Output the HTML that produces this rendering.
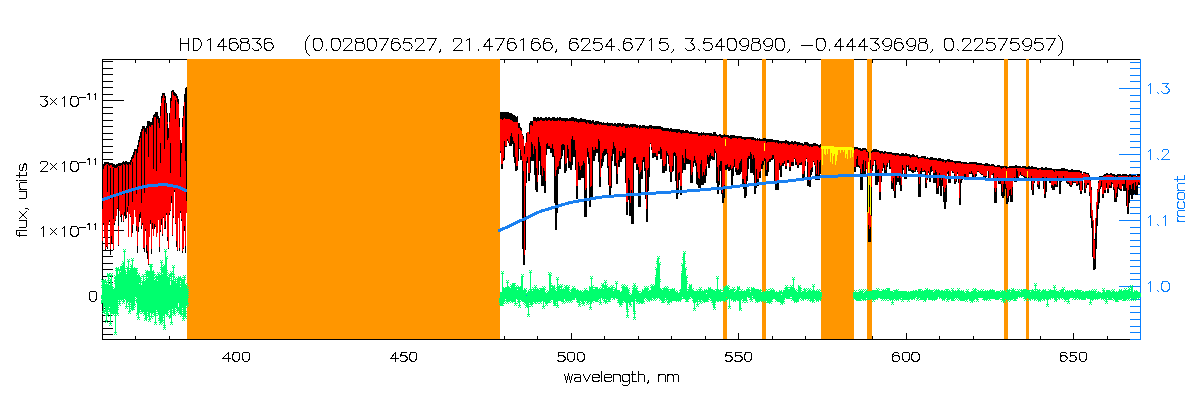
<!DOCTYPE html>
<html><head><meta charset="utf-8"><style>
html,body{margin:0;padding:0;background:#fff;width:1200px;height:400px;overflow:hidden}
svg{display:block}
text{font-family:'Liberation Sans',sans-serif}
</style></head><body>
<svg width="1200" height="400" viewBox="0 0 1200 400" shape-rendering="crispEdges">
<rect width="1200" height="400" fill="#fff"/>
<path fill="#000" d="M102 59h1v281h-1zM102 59h1038v1h-1038zM102 339h1038v1h-1038zM102 334h11v1h-11zM102 328h11v1h-11zM102 321h11v1h-11zM102 315h11v1h-11zM102 308h11v1h-11zM102 302h11v1h-11zM102 295h22v1h-22zM102 289h11v1h-11zM102 282h11v1h-11zM102 276h11v1h-11zM102 269h11v1h-11zM102 263h11v1h-11zM102 256h11v1h-11zM102 250h11v1h-11zM102 243h11v1h-11zM102 237h11v1h-11zM102 230h22v1h-22zM102 224h11v1h-11zM102 217h11v1h-11zM102 211h11v1h-11zM102 204h11v1h-11zM102 198h11v1h-11zM102 191h11v1h-11zM102 185h11v1h-11zM102 178h11v1h-11zM102 172h11v1h-11zM102 165h22v1h-22zM102 159h11v1h-11zM102 152h11v1h-11zM102 146h11v1h-11zM102 139h11v1h-11zM102 133h11v1h-11zM102 126h11v1h-11zM102 120h11v1h-11zM102 113h11v1h-11zM102 107h11v1h-11zM102 100h22v1h-22zM102 94h11v1h-11zM102 87h11v1h-11zM102 81h11v1h-11zM102 74h11v1h-11zM102 68h11v1h-11zM102 61h11v1h-11zM135 59h1v4h-1zM135 336h1v4h-1zM169 59h1v4h-1zM169 336h1v4h-1zM202 59h1v4h-1zM202 336h1v4h-1zM236 59h1v7h-1zM236 333h1v7h-1zM269 59h1v4h-1zM269 336h1v4h-1zM303 59h1v4h-1zM303 336h1v4h-1zM336 59h1v4h-1zM336 336h1v4h-1zM370 59h1v4h-1zM370 336h1v4h-1zM403 59h1v7h-1zM403 333h1v7h-1zM437 59h1v4h-1zM437 336h1v4h-1zM470 59h1v4h-1zM470 336h1v4h-1zM504 59h1v4h-1zM504 336h1v4h-1zM537 59h1v4h-1zM537 336h1v4h-1zM571 59h1v7h-1zM571 333h1v7h-1zM604 59h1v4h-1zM604 336h1v4h-1zM638 59h1v4h-1zM638 336h1v4h-1zM671 59h1v4h-1zM671 336h1v4h-1zM705 59h1v4h-1zM705 336h1v4h-1zM738 59h1v7h-1zM738 333h1v7h-1zM772 59h1v4h-1zM772 336h1v4h-1zM805 59h1v4h-1zM805 336h1v4h-1zM839 59h1v4h-1zM839 336h1v4h-1zM872 59h1v4h-1zM872 336h1v4h-1zM906 59h1v7h-1zM906 333h1v7h-1zM939 59h1v4h-1zM939 336h1v4h-1zM973 59h1v4h-1zM973 336h1v4h-1zM1006 59h1v4h-1zM1006 336h1v4h-1zM1040 59h1v4h-1zM1040 336h1v4h-1zM1073 59h1v7h-1zM1073 333h1v7h-1zM1107 59h1v4h-1zM1107 336h1v4h-1z"/><path fill="#0A80FF" d="M1140 59h1v281h-1zM1130 339h11v1h-11zM1130 332h11v1h-11zM1130 326h11v1h-11zM1130 319h11v1h-11zM1130 312h11v1h-11zM1130 306h11v1h-11zM1130 299h11v1h-11zM1130 293h11v1h-11zM1119 286h22v1h-22zM1130 279h11v1h-11zM1130 273h11v1h-11zM1130 266h11v1h-11zM1130 260h11v1h-11zM1130 253h11v1h-11zM1130 246h11v1h-11zM1130 240h11v1h-11zM1130 233h11v1h-11zM1130 227h11v1h-11zM1119 220h22v1h-22zM1130 213h11v1h-11zM1130 207h11v1h-11zM1130 200h11v1h-11zM1130 194h11v1h-11zM1130 187h11v1h-11zM1130 180h11v1h-11zM1130 174h11v1h-11zM1130 167h11v1h-11zM1130 161h11v1h-11zM1119 154h22v1h-22zM1130 147h11v1h-11zM1130 141h11v1h-11zM1130 134h11v1h-11zM1130 128h11v1h-11zM1130 121h11v1h-11zM1130 114h11v1h-11zM1130 108h11v1h-11zM1130 101h11v1h-11zM1130 95h11v1h-11zM1119 88h22v1h-22zM1130 81h11v1h-11zM1130 75h11v1h-11zM1130 68h11v1h-11zM1130 62h11v1h-11z"/><rect x="187" y="59" width="313" height="280" fill="#FF9600"/><rect x="723" y="59" width="4" height="280" fill="#FF9600"/><rect x="762" y="59" width="4" height="280" fill="#FF9600"/><rect x="821" y="59" width="33" height="280" fill="#FF9600"/><rect x="867" y="59" width="5" height="280" fill="#FF9600"/><rect x="1004" y="59" width="4" height="280" fill="#FF9600"/><rect x="1026" y="59" width="3" height="280" fill="#FF9600"/><path fill="#000000" d="M102 166h1v79h-1zM103 164h1v61h-1zM104 162h1v75h-1zM105 162h1v89h-1zM106 162h1v85h-1zM107 162h1v87h-1zM108 162h1v63h-1zM109 163h1v59h-1zM110 163h1v92h-1zM111 163h1v81h-1zM112 163h1v81h-1zM113 164h1v86h-1zM114 164h1v61h-1zM115 165h1v56h-1zM116 164h1v52h-1zM117 164h1v45h-1zM118 163h1v83h-1zM119 163h1v48h-1zM120 163h1v54h-1zM121 163h1v59h-1zM122 162h1v53h-1zM123 162h1v60h-1zM124 162h1v54h-1zM125 162h1v54h-1zM126 162h1v56h-1zM127 162h1v50h-1zM128 162h1v75h-1zM129 162h1v52h-1zM130 160h1v57h-1zM131 157h1v80h-1zM132 155h1v78h-1zM133 152h1v72h-1zM134 149h1v61h-1zM135 149h1v68h-1zM136 149h1v82h-1zM137 145h1v108h-1zM138 140h1v92h-1zM139 136h1v86h-1zM140 132h1v86h-1zM141 129h1v100h-1zM142 126h1v99h-1zM143 126h1v123h-1zM144 126h1v126h-1zM145 128h1v103h-1zM146 126h1v127h-1zM147 121h1v138h-1zM148 121h1v144h-1zM149 121h1v116h-1zM150 122h1v102h-1zM151 122h1v132h-1zM152 118h1v111h-1zM153 115h1v121h-1zM154 114h1v115h-1zM155 112h1v115h-1zM156 112h1v125h-1zM157 112h1v121h-1zM158 116h1v104h-1zM159 118h1v134h-1zM160 106h1v126h-1zM161 96h1v129h-1zM162 93h1v143h-1zM163 93h1v125h-1zM164 93h1v136h-1zM165 96h1v133h-1zM166 103h1v112h-1zM167 113h1v128h-1zM168 128h1v121h-1zM169 113h1v102h-1zM170 98h1v113h-1zM171 91h1v112h-1zM172 90h1v146h-1zM173 90h1v128h-1zM174 92h1v100h-1zM175 93h1v131h-1zM176 94h1v153h-1zM177 96h1v155h-1zM178 99h1v119h-1zM179 118h1v133h-1zM180 140h1v73h-1zM181 143h1v78h-1zM182 118h1v135h-1zM183 106h1v143h-1zM184 94h1v137h-1zM185 88h1v165h-1zM186 88h1v125h-1zM122 162h1v17h-1zM123 161h1v17h-1zM124 162h1v15h-1zM125 161h1v23h-1zM126 161h1v18h-1zM127 163h1v18h-1zM128 162h1v17h-1zM129 162h1v16h-1zM130 162h1v21h-1zM500 112h1v41h-1zM500 112h1v41h-1zM501 112h1v57h-1zM502 112h1v57h-1zM503 112h1v49h-1zM504 112h1v48h-1zM505 112h1v35h-1zM506 112h1v35h-1zM507 112h1v29h-1zM508 112h1v31h-1zM509 113h1v33h-1zM510 113h1v33h-1zM511 113h1v33h-1zM512 114h1v30h-1zM513 115h1v42h-1zM514 115h1v48h-1zM515 116h1v55h-1zM516 117h1v54h-1zM517 116h1v54h-1zM518 123h1v38h-1zM519 123h1v26h-1zM520 127h1v33h-1zM521 128h1v32h-1zM522 134h1v115h-1zM523 136h1v129h-1zM524 146h1v119h-1zM525 144h1v106h-1zM526 133h1v50h-1zM527 132h1v31h-1zM528 132h1v49h-1zM529 123h1v58h-1zM530 121h1v52h-1zM531 121h1v40h-1zM532 121h1v40h-1zM533 117h1v44h-1zM534 117h1v58h-1zM535 117h1v73h-1zM536 118h1v74h-1zM537 117h1v75h-1zM538 117h1v58h-1zM539 118h1v43h-1zM540 117h1v58h-1zM541 117h1v69h-1zM542 118h1v68h-1zM543 118h1v68h-1zM544 118h1v75h-1zM545 117h1v76h-1zM546 117h1v38h-1zM547 118h1v31h-1zM548 117h1v32h-1zM549 117h1v32h-1zM550 118h1v35h-1zM551 118h1v35h-1zM552 117h1v40h-1zM553 117h1v40h-1zM554 117h1v86h-1zM555 118h1v112h-1zM556 118h1v112h-1zM557 117h1v96h-1zM558 118h1v56h-1zM559 117h1v52h-1zM560 117h1v52h-1zM561 118h1v41h-1zM562 118h1v38h-1zM563 118h1v32h-1zM564 118h1v55h-1zM565 118h1v55h-1zM566 118h1v53h-1zM567 118h1v40h-1zM568 119h1v49h-1zM569 118h1v50h-1zM570 118h1v52h-1zM571 117h1v53h-1zM572 117h1v48h-1zM573 117h1v40h-1zM574 118h1v39h-1zM575 118h1v52h-1zM576 118h1v81h-1zM577 119h1v80h-1zM578 119h1v61h-1zM579 119h1v61h-1zM580 118h1v62h-1zM581 118h1v60h-1zM582 119h1v59h-1zM583 119h1v59h-1zM584 119h1v98h-1zM585 119h1v98h-1zM586 120h1v97h-1zM587 120h1v37h-1zM588 120h1v44h-1zM589 120h1v87h-1zM590 120h1v87h-1zM591 121h1v77h-1zM592 120h1v78h-1zM593 120h1v41h-1zM594 122h1v39h-1zM595 121h1v35h-1zM596 121h1v32h-1zM597 121h1v32h-1zM598 121h1v41h-1zM599 122h1v65h-1zM600 122h1v65h-1zM601 122h1v46h-1zM602 123h1v43h-1zM603 122h1v40h-1zM604 123h1v33h-1zM605 123h1v32h-1zM606 123h1v31h-1zM607 122h1v46h-1zM608 123h1v62h-1zM609 123h1v74h-1zM610 123h1v74h-1zM611 123h1v65h-1zM612 123h1v38h-1zM613 124h1v30h-1zM614 123h1v43h-1zM615 123h1v43h-1zM616 124h1v60h-1zM617 123h1v61h-1zM618 123h1v44h-1zM619 123h1v44h-1zM620 123h1v39h-1zM621 124h1v38h-1zM622 123h1v36h-1zM623 123h1v35h-1zM624 124h1v34h-1zM625 124h1v59h-1zM626 124h1v91h-1zM627 124h1v91h-1zM628 124h1v76h-1zM629 125h1v91h-1zM630 124h1v92h-1zM631 124h1v100h-1zM632 124h1v100h-1zM633 124h1v100h-1zM634 124h1v39h-1zM635 124h1v39h-1zM636 125h1v45h-1zM637 125h1v45h-1zM638 126h1v81h-1zM639 125h1v82h-1zM640 125h1v82h-1zM641 126h1v53h-1zM642 125h1v54h-1zM643 125h1v37h-1zM644 125h1v46h-1zM645 126h1v73h-1zM646 126h1v96h-1zM647 126h1v96h-1zM648 126h1v65h-1zM649 125h1v52h-1zM650 125h1v19h-1zM651 125h1v25h-1zM652 126h1v32h-1zM653 126h1v32h-1zM654 126h1v31h-1zM655 126h1v31h-1zM656 126h1v34h-1zM657 126h1v34h-1zM658 126h1v28h-1zM659 126h1v28h-1zM660 126h1v33h-1zM661 127h1v32h-1zM662 127h1v46h-1zM663 128h1v45h-1zM664 128h1v45h-1zM665 128h1v43h-1zM666 128h1v43h-1zM667 128h1v28h-1zM668 128h1v36h-1zM669 129h1v43h-1zM670 128h1v54h-1zM671 128h1v54h-1zM672 129h1v43h-1zM673 129h1v42h-1zM674 129h1v27h-1zM675 129h1v52h-1zM676 129h1v70h-1zM677 129h1v70h-1zM678 129h1v65h-1zM679 129h1v51h-1zM680 130h1v65h-1zM681 130h1v65h-1zM682 130h1v43h-1zM683 130h1v40h-1zM684 131h1v39h-1zM685 130h1v40h-1zM686 130h1v34h-1zM687 130h1v34h-1zM688 131h1v33h-1zM689 132h1v32h-1zM690 131h1v52h-1zM691 131h1v52h-1zM692 132h1v51h-1zM693 132h1v35h-1zM694 132h1v31h-1zM695 132h1v34h-1zM696 132h1v52h-1zM697 132h1v53h-1zM698 133h1v55h-1zM699 133h1v55h-1zM700 133h1v55h-1zM701 132h1v53h-1zM702 133h1v52h-1zM703 132h1v53h-1zM704 133h1v50h-1zM705 133h1v50h-1zM706 133h1v43h-1zM707 133h1v31h-1zM708 133h1v35h-1zM709 133h1v35h-1zM710 133h1v28h-1zM711 133h1v26h-1zM712 134h1v26h-1zM713 132h1v28h-1zM714 132h1v28h-1zM715 132h1v21h-1zM716 134h1v49h-1zM717 135h1v59h-1zM718 135h1v59h-1zM719 134h1v51h-1zM720 134h1v37h-1zM721 135h1v59h-1zM722 135h1v68h-1zM723 135h1v68h-1zM724 134h1v64h-1zM725 135h1v35h-1zM726 135h1v35h-1zM727 135h1v34h-1zM728 135h1v36h-1zM729 136h1v35h-1zM730 135h1v35h-1zM731 135h1v52h-1zM732 135h1v52h-1zM733 135h1v41h-1zM734 135h1v32h-1zM735 136h1v36h-1zM736 136h1v39h-1zM737 136h1v39h-1zM738 136h1v39h-1zM739 136h1v39h-1zM740 136h1v38h-1zM741 136h1v36h-1zM742 137h1v49h-1zM743 137h1v52h-1zM744 137h1v61h-1zM745 137h1v61h-1zM746 137h1v59h-1zM747 137h1v44h-1zM748 137h1v32h-1zM749 137h1v22h-1zM750 137h1v36h-1zM751 137h1v36h-1zM752 137h1v36h-1zM753 137h1v38h-1zM754 138h1v56h-1zM755 138h1v56h-1zM756 139h1v49h-1zM757 138h1v48h-1zM758 139h1v47h-1zM759 138h1v40h-1zM760 139h1v39h-1zM761 139h1v30h-1zM762 139h1v30h-1zM763 138h1v27h-1zM764 138h1v23h-1zM765 138h1v38h-1zM766 139h1v37h-1zM767 139h1v37h-1zM768 139h1v33h-1zM769 139h1v23h-1zM770 139h1v23h-1zM771 139h1v21h-1zM772 139h1v21h-1zM773 140h1v19h-1zM774 140h1v41h-1zM775 140h1v50h-1zM776 140h1v50h-1zM777 140h1v50h-1zM778 140h1v50h-1zM779 141h1v29h-1zM780 141h1v36h-1zM781 141h1v36h-1zM782 141h1v25h-1zM783 141h1v25h-1zM784 141h1v23h-1zM785 140h1v29h-1zM786 140h1v29h-1zM787 141h1v22h-1zM788 141h1v22h-1zM789 142h1v29h-1zM790 142h1v29h-1zM791 141h1v25h-1zM792 141h1v25h-1zM793 142h1v24h-1zM794 141h1v18h-1zM795 141h1v24h-1zM796 142h1v23h-1zM797 142h1v26h-1zM798 142h1v26h-1zM799 142h1v23h-1zM800 143h1v22h-1zM801 143h1v22h-1zM802 143h1v37h-1zM803 144h1v36h-1zM804 142h1v35h-1zM805 142h1v24h-1zM806 142h1v17h-1zM807 142h1v44h-1zM808 143h1v43h-1zM809 144h1v43h-1zM810 144h1v43h-1zM811 144h1v31h-1zM812 144h1v28h-1zM813 143h1v19h-1zM814 143h1v22h-1zM815 143h1v37h-1zM816 144h1v36h-1zM817 144h1v36h-1zM818 145h1v35h-1zM819 145h1v35h-1zM820 144h1v30h-1zM854 147h1v25h-1zM855 147h1v25h-1zM856 147h1v20h-1zM857 147h1v20h-1zM858 148h1v19h-1zM859 148h1v20h-1zM860 148h1v42h-1zM861 149h1v41h-1zM862 148h1v42h-1zM863 148h1v27h-1zM864 148h1v27h-1zM865 148h1v27h-1zM866 149h1v20h-1zM867 151h1v61h-1zM868 152h1v90h-1zM869 185h1v57h-1zM870 160h1v82h-1zM871 151h1v65h-1zM872 150h1v21h-1zM873 149h1v17h-1zM874 149h1v12h-1zM875 149h1v36h-1zM876 149h1v36h-1zM877 150h1v35h-1zM878 150h1v32h-1zM879 151h1v49h-1zM880 151h1v49h-1zM881 151h1v31h-1zM882 151h1v20h-1zM883 152h1v16h-1zM884 151h1v22h-1zM885 151h1v22h-1zM886 152h1v21h-1zM887 152h1v15h-1zM888 152h1v11h-1zM889 152h1v17h-1zM890 152h1v17h-1zM891 152h1v37h-1zM892 153h1v36h-1zM893 153h1v38h-1zM894 153h1v45h-1zM895 153h1v45h-1zM896 153h1v32h-1zM897 153h1v29h-1zM898 153h1v29h-1zM899 154h1v31h-1zM900 154h1v37h-1zM901 153h1v38h-1zM902 153h1v24h-1zM903 153h1v17h-1zM904 154h1v25h-1zM905 153h1v26h-1zM906 153h1v26h-1zM907 154h1v13h-1zM908 154h1v17h-1zM909 154h1v17h-1zM910 155h1v16h-1zM911 155h1v17h-1zM912 154h1v19h-1zM913 154h1v19h-1zM914 155h1v17h-1zM915 156h1v16h-1zM916 155h1v15h-1zM917 155h1v17h-1zM918 157h1v40h-1zM919 157h1v40h-1zM920 157h1v40h-1zM921 156h1v21h-1zM922 156h1v16h-1zM923 156h1v16h-1zM924 156h1v16h-1zM925 156h1v32h-1zM926 158h1v30h-1zM927 157h1v23h-1zM928 158h1v15h-1zM929 158h1v24h-1zM930 157h1v25h-1zM931 157h1v15h-1zM932 157h1v14h-1zM933 158h1v25h-1zM934 158h1v25h-1zM935 158h1v25h-1zM936 158h1v36h-1zM937 159h1v35h-1zM938 158h1v36h-1zM939 158h1v28h-1zM940 158h1v38h-1zM941 159h1v37h-1zM942 159h1v27h-1zM943 159h1v43h-1zM944 160h1v49h-1zM945 160h1v49h-1zM946 160h1v42h-1zM947 159h1v15h-1zM948 159h1v24h-1zM949 159h1v24h-1zM950 160h1v23h-1zM951 160h1v11h-1zM952 160h1v13h-1zM953 161h1v12h-1zM954 161h1v23h-1zM955 161h1v23h-1zM956 161h1v21h-1zM957 161h1v13h-1zM958 161h1v22h-1zM959 161h1v44h-1zM960 161h1v44h-1zM961 162h1v21h-1zM962 162h1v18h-1zM963 162h1v17h-1zM964 162h1v15h-1zM965 162h1v18h-1zM966 162h1v18h-1zM967 163h1v17h-1zM968 163h1v17h-1zM969 162h1v12h-1zM970 162h1v12h-1zM971 162h1v12h-1zM972 162h1v16h-1zM973 162h1v18h-1zM974 162h1v18h-1zM975 162h1v18h-1zM976 162h1v14h-1zM977 163h1v9h-1zM978 163h1v9h-1zM979 163h1v10h-1zM980 163h1v11h-1zM981 163h1v12h-1zM982 164h1v11h-1zM983 164h1v14h-1zM984 164h1v14h-1zM985 163h1v15h-1zM986 163h1v14h-1zM987 163h1v8h-1zM988 164h1v15h-1zM989 164h1v15h-1zM990 165h1v14h-1zM991 164h1v11h-1zM992 164h1v11h-1zM993 164h1v15h-1zM994 165h1v38h-1zM995 166h1v37h-1zM996 166h1v37h-1zM997 165h1v14h-1zM998 165h1v19h-1zM999 165h1v19h-1zM1000 166h1v18h-1zM1001 166h1v30h-1zM1002 166h1v32h-1zM1003 166h1v32h-1zM1004 166h1v30h-1zM1005 166h1v23h-1zM1006 166h1v38h-1zM1007 167h1v37h-1zM1008 167h1v35h-1zM1009 166h1v30h-1zM1010 166h1v36h-1zM1011 166h1v36h-1zM1012 166h1v36h-1zM1013 166h1v15h-1zM1014 166h1v16h-1zM1015 165h1v17h-1zM1016 165h1v17h-1zM1017 166h1v13h-1zM1018 166h1v13h-1zM1019 166h1v10h-1zM1020 166h1v9h-1zM1021 167h1v9h-1zM1022 166h1v10h-1zM1023 166h1v11h-1zM1024 166h1v12h-1zM1025 166h1v12h-1zM1026 167h1v12h-1zM1027 167h1v12h-1zM1028 166h1v15h-1zM1029 166h1v15h-1zM1030 167h1v14h-1zM1031 166h1v24h-1zM1032 166h1v29h-1zM1033 167h1v28h-1zM1034 167h1v16h-1zM1035 167h1v13h-1zM1036 167h1v13h-1zM1037 168h1v19h-1zM1038 168h1v21h-1zM1039 168h1v21h-1zM1040 168h1v13h-1zM1041 167h1v14h-1zM1042 167h1v14h-1zM1043 168h1v21h-1zM1044 168h1v30h-1zM1045 167h1v31h-1zM1046 167h1v25h-1zM1047 168h1v12h-1zM1048 168h1v12h-1zM1049 168h1v15h-1zM1050 168h1v15h-1zM1051 168h1v20h-1zM1052 169h1v21h-1zM1053 169h1v21h-1zM1054 169h1v21h-1zM1055 169h1v18h-1zM1056 169h1v18h-1zM1057 169h1v18h-1zM1058 169h1v11h-1zM1059 169h1v25h-1zM1060 169h1v25h-1zM1061 168h1v14h-1zM1062 168h1v12h-1zM1063 168h1v12h-1zM1064 168h1v11h-1zM1065 169h1v11h-1zM1066 169h1v14h-1zM1067 169h1v15h-1zM1068 170h1v14h-1zM1069 170h1v16h-1zM1070 170h1v17h-1zM1071 169h1v18h-1zM1072 169h1v16h-1zM1073 170h1v13h-1zM1074 170h1v13h-1zM1075 170h1v13h-1zM1076 170h1v16h-1zM1077 170h1v16h-1zM1078 170h1v15h-1zM1079 170h1v20h-1zM1080 171h1v23h-1zM1081 171h1v23h-1zM1082 174h1v16h-1zM1083 172h1v6h-1zM1084 172h1v21h-1zM1085 172h1v21h-1zM1086 173h1v15h-1zM1087 173h1v12h-1zM1088 173h1v12h-1zM1089 175h1v21h-1zM1090 179h1v39h-1zM1091 187h1v41h-1zM1092 210h1v47h-1zM1093 224h1v46h-1zM1094 239h1v31h-1zM1095 220h1v49h-1zM1096 205h1v44h-1zM1097 189h1v37h-1zM1098 181h1v28h-1zM1099 176h1v27h-1zM1100 176h1v13h-1zM1101 176h1v11h-1zM1102 176h1v22h-1zM1103 175h1v23h-1zM1104 174h1v19h-1zM1105 174h1v19h-1zM1106 173h1v15h-1zM1107 173h1v20h-1zM1108 174h1v19h-1zM1109 174h1v14h-1zM1110 173h1v15h-1zM1111 173h1v15h-1zM1112 174h1v10h-1zM1113 174h1v16h-1zM1114 174h1v28h-1zM1115 175h1v27h-1zM1116 175h1v27h-1zM1117 174h1v23h-1zM1118 174h1v15h-1zM1119 174h1v16h-1zM1120 174h1v17h-1zM1121 175h1v16h-1zM1122 174h1v12h-1zM1123 174h1v17h-1zM1124 174h1v17h-1zM1125 174h1v17h-1zM1126 174h1v32h-1zM1127 175h1v39h-1zM1128 175h1v39h-1zM1129 174h1v29h-1zM1130 174h1v21h-1zM1131 175h1v24h-1zM1132 175h1v24h-1zM1133 175h1v20h-1zM1134 175h1v19h-1zM1135 175h1v20h-1zM1136 176h1v19h-1zM1137 174h1v21h-1zM1138 174h1v11h-1zM1139 174h1v11h-1z"/><path fill="#FF0000" d="M102 171h1v70h-1zM103 169h1v54h-1zM104 166h1v71h-1zM105 165h1v84h-1zM106 164h1v82h-1zM107 164h1v83h-1zM108 165h1v60h-1zM109 166h1v54h-1zM110 165h1v84h-1zM111 165h1v71h-1zM112 167h1v76h-1zM113 167h1v82h-1zM114 168h1v55h-1zM115 168h1v52h-1zM116 168h1v48h-1zM117 167h1v41h-1zM118 166h1v79h-1zM119 166h1v45h-1zM120 166h1v50h-1zM121 165h1v49h-1zM122 166h1v49h-1zM123 164h1v57h-1zM124 165h1v47h-1zM125 165h1v50h-1zM126 164h1v51h-1zM127 165h1v42h-1zM128 164h1v73h-1zM129 164h1v50h-1zM130 165h1v51h-1zM131 162h1v75h-1zM132 159h1v66h-1zM133 158h1v66h-1zM134 155h1v55h-1zM135 151h1v66h-1zM136 152h1v74h-1zM137 153h1v93h-1zM138 147h1v80h-1zM139 142h1v72h-1zM140 138h1v74h-1zM141 135h1v91h-1zM142 131h1v92h-1zM143 129h1v119h-1zM144 130h1v118h-1zM145 132h1v97h-1zM146 134h1v111h-1zM147 128h1v123h-1zM148 123h1v141h-1zM149 126h1v111h-1zM150 127h1v93h-1zM151 125h1v124h-1zM152 125h1v98h-1zM153 122h1v114h-1zM154 117h1v107h-1zM155 117h1v109h-1zM156 116h1v121h-1zM157 119h1v114h-1zM158 123h1v97h-1zM159 128h1v119h-1zM160 116h1v114h-1zM161 103h1v116h-1zM162 98h1v136h-1zM163 95h1v122h-1zM164 98h1v130h-1zM165 103h1v118h-1zM166 113h1v100h-1zM167 122h1v115h-1zM168 138h1v110h-1zM169 122h1v91h-1zM170 108h1v102h-1zM171 101h1v95h-1zM172 92h1v143h-1zM173 95h1v121h-1zM174 96h1v94h-1zM175 96h1v127h-1zM176 98h1v143h-1zM177 102h1v148h-1zM178 104h1v114h-1zM179 127h1v121h-1zM180 149h1v62h-1zM181 153h1v66h-1zM182 127h1v124h-1zM183 116h1v132h-1zM184 102h1v124h-1zM185 97h1v149h-1zM186 90h1v123h-1zM500 119h1v32h-1zM501 119h1v45h-1zM502 120h1v44h-1zM503 119h1v39h-1zM504 118h1v23h-1zM505 119h1v27h-1zM506 119h1v27h-1zM507 119h1v20h-1zM508 119h1v22h-1zM509 119h1v24h-1zM510 120h1v26h-1zM511 120h1v13h-1zM512 121h1v22h-1zM513 122h1v19h-1zM514 122h1v32h-1zM515 122h1v43h-1zM516 122h1v44h-1zM517 122h1v44h-1zM518 128h1v6h-1zM519 128h1v20h-1zM520 130h1v26h-1zM521 131h1v25h-1zM522 135h1v34h-1zM523 139h1v116h-1zM524 154h1v101h-1zM525 143h1v43h-1zM526 142h1v32h-1zM527 132h1v25h-1zM528 132h1v41h-1zM529 134h1v39h-1zM530 125h1v32h-1zM531 125h1v17h-1zM532 126h1v29h-1zM533 121h1v33h-1zM534 121h1v25h-1zM535 121h1v45h-1zM536 122h1v60h-1zM537 121h1v61h-1zM538 121h1v16h-1zM539 121h1v21h-1zM540 120h1v46h-1zM541 120h1v46h-1zM542 121h1v55h-1zM543 121h1v47h-1zM544 121h1v60h-1zM545 120h1v61h-1zM546 121h1v23h-1zM547 121h1v22h-1zM548 120h1v26h-1zM549 120h1v26h-1zM550 121h1v27h-1zM551 121h1v27h-1zM552 120h1v24h-1zM553 121h1v30h-1zM554 121h1v50h-1zM555 121h1v95h-1zM556 121h1v95h-1zM557 121h1v46h-1zM558 120h1v46h-1zM559 121h1v40h-1zM560 120h1v41h-1zM561 121h1v32h-1zM562 121h1v23h-1zM563 121h1v23h-1zM564 121h1v43h-1zM565 122h1v42h-1zM566 121h1v42h-1zM567 121h1v24h-1zM568 121h1v40h-1zM569 121h1v40h-1zM570 121h1v41h-1zM571 121h1v41h-1zM572 121h1v15h-1zM573 121h1v31h-1zM574 122h1v18h-1zM575 121h1v29h-1zM576 122h1v64h-1zM577 122h1v64h-1zM578 123h1v39h-1zM579 122h1v49h-1zM580 122h1v48h-1zM581 122h1v44h-1zM582 122h1v47h-1zM583 122h1v39h-1zM584 122h1v75h-1zM585 123h1v80h-1zM586 124h1v64h-1zM587 122h1v26h-1zM588 123h1v33h-1zM589 124h1v71h-1zM590 124h1v71h-1zM591 124h1v62h-1zM592 123h1v24h-1zM593 124h1v31h-1zM594 125h1v30h-1zM595 125h1v22h-1zM596 125h1v24h-1zM597 124h1v25h-1zM598 124h1v15h-1zM599 125h1v52h-1zM600 124h1v53h-1zM601 125h1v34h-1zM602 125h1v34h-1zM603 125h1v26h-1zM604 125h1v24h-1zM605 125h1v24h-1zM606 125h1v24h-1zM607 126h1v36h-1zM608 126h1v46h-1zM609 126h1v60h-1zM610 126h1v60h-1zM611 125h1v31h-1zM612 126h1v23h-1zM613 126h1v16h-1zM614 126h1v20h-1zM615 126h1v34h-1zM616 127h1v47h-1zM617 127h1v47h-1zM618 127h1v33h-1zM619 126h1v25h-1zM620 126h1v30h-1zM621 127h1v29h-1zM622 127h1v24h-1zM623 126h1v27h-1zM624 126h1v27h-1zM625 128h1v20h-1zM626 128h1v74h-1zM627 128h1v74h-1zM628 127h1v51h-1zM629 128h1v75h-1zM630 127h1v76h-1zM631 127h1v63h-1zM632 128h1v82h-1zM633 127h1v66h-1zM634 127h1v30h-1zM635 127h1v30h-1zM636 128h1v36h-1zM637 128h1v36h-1zM638 127h1v46h-1zM639 129h1v66h-1zM640 128h1v51h-1zM641 128h1v42h-1zM642 128h1v42h-1zM643 128h1v29h-1zM644 128h1v29h-1zM645 129h1v39h-1zM646 128h1v81h-1zM647 129h1v80h-1zM648 129h1v39h-1zM649 128h1v38h-1zM650 128h1v15h-1zM651 129h1v18h-1zM652 128h1v25h-1zM653 129h1v24h-1zM654 129h1v24h-1zM655 129h1v24h-1zM656 129h1v27h-1zM657 129h1v27h-1zM658 129h1v22h-1zM659 129h1v22h-1zM660 129h1v18h-1zM661 130h1v26h-1zM662 131h1v33h-1zM663 131h1v35h-1zM664 131h1v35h-1zM665 131h1v33h-1zM666 131h1v20h-1zM667 131h1v22h-1zM668 131h1v24h-1zM669 132h1v34h-1zM670 131h1v41h-1zM671 132h1v40h-1zM672 132h1v34h-1zM673 132h1v21h-1zM674 132h1v20h-1zM675 132h1v21h-1zM676 133h1v55h-1zM677 133h1v55h-1zM678 132h1v52h-1zM679 132h1v40h-1zM680 133h1v53h-1zM681 134h1v52h-1zM682 133h1v22h-1zM683 133h1v25h-1zM684 133h1v30h-1zM685 133h1v16h-1zM686 133h1v25h-1zM687 133h1v26h-1zM688 133h1v26h-1zM689 134h1v26h-1zM690 134h1v26h-1zM691 134h1v41h-1zM692 134h1v38h-1zM693 134h1v27h-1zM694 134h1v22h-1zM695 134h1v26h-1zM696 134h1v36h-1zM697 134h1v43h-1zM698 136h1v42h-1zM699 136h1v43h-1zM700 135h1v39h-1zM701 136h1v24h-1zM702 135h1v41h-1zM703 135h1v37h-1zM704 135h1v40h-1zM705 136h1v39h-1zM706 135h1v31h-1zM707 135h1v20h-1zM708 135h1v28h-1zM709 136h1v27h-1zM710 136h1v17h-1zM711 136h1v20h-1zM712 136h1v20h-1zM713 136h1v21h-1zM714 136h1v13h-1zM715 136h1v15h-1zM716 136h1v27h-1zM717 137h1v48h-1zM718 136h1v49h-1zM719 136h1v41h-1zM720 137h1v24h-1zM721 138h1v23h-1zM722 138h1v55h-1zM723 137h1v56h-1zM724 137h1v48h-1zM725 137h1v28h-1zM726 137h1v28h-1zM727 137h1v27h-1zM728 138h1v29h-1zM729 138h1v29h-1zM730 139h1v26h-1zM731 139h1v39h-1zM732 138h1v40h-1zM733 138h1v28h-1zM734 138h1v21h-1zM735 138h1v30h-1zM736 138h1v30h-1zM737 139h1v31h-1zM738 138h1v31h-1zM739 138h1v31h-1zM740 138h1v23h-1zM741 139h1v20h-1zM742 139h1v40h-1zM743 139h1v40h-1zM744 140h1v47h-1zM745 140h1v47h-1zM746 139h1v45h-1zM747 139h1v35h-1zM748 139h1v17h-1zM749 139h1v17h-1zM750 139h1v13h-1zM751 140h1v27h-1zM752 140h1v19h-1zM753 140h1v15h-1zM754 140h1v44h-1zM755 141h1v43h-1zM756 140h1v29h-1zM757 141h1v38h-1zM758 140h1v39h-1zM759 141h1v31h-1zM760 141h1v30h-1zM761 141h1v23h-1zM762 141h1v20h-1zM763 141h1v20h-1zM764 141h1v17h-1zM765 141h1v18h-1zM766 143h1v27h-1zM767 142h1v28h-1zM768 142h1v19h-1zM769 142h1v17h-1zM770 142h1v17h-1zM771 142h1v16h-1zM772 142h1v13h-1zM773 142h1v13h-1zM774 142h1v22h-1zM775 143h1v38h-1zM776 142h1v39h-1zM777 143h1v38h-1zM778 144h1v37h-1zM779 143h1v20h-1zM780 143h1v29h-1zM781 144h1v28h-1zM782 143h1v20h-1zM783 143h1v20h-1zM784 143h1v18h-1zM785 144h1v22h-1zM786 143h1v23h-1zM787 144h1v16h-1zM788 145h1v15h-1zM789 145h1v22h-1zM790 144h1v23h-1zM791 144h1v18h-1zM792 144h1v18h-1zM793 145h1v17h-1zM794 144h1v14h-1zM795 144h1v15h-1zM796 144h1v18h-1zM797 146h1v19h-1zM798 145h1v20h-1zM799 145h1v18h-1zM800 145h1v18h-1zM801 145h1v17h-1zM802 146h1v28h-1zM803 146h1v28h-1zM804 145h1v26h-1zM805 145h1v16h-1zM806 145h1v13h-1zM807 146h1v29h-1zM808 146h1v32h-1zM809 147h1v34h-1zM810 146h1v35h-1zM811 147h1v21h-1zM812 147h1v20h-1zM813 146h1v15h-1zM814 146h1v17h-1zM815 146h1v28h-1zM816 146h1v28h-1zM817 146h1v14h-1zM818 147h1v28h-1zM819 148h1v24h-1zM820 147h1v13h-1zM854 150h1v17h-1zM855 149h1v18h-1zM856 149h1v10h-1zM857 149h1v7h-1zM858 150h1v15h-1zM859 150h1v16h-1zM860 151h1v23h-1zM861 151h1v32h-1zM862 151h1v19h-1zM863 150h1v10h-1zM864 150h1v21h-1zM865 150h1v11h-1zM866 152h1v16h-1zM867 152h1v25h-1zM868 158h1v67h-1zM869 207h1v22h-1zM870 169h1v58h-1zM871 153h1v34h-1zM872 152h1v13h-1zM873 152h1v13h-1zM874 152h1v8h-1zM875 152h1v8h-1zM876 152h1v27h-1zM877 152h1v18h-1zM878 152h1v17h-1zM879 153h1v39h-1zM880 154h1v38h-1zM881 153h1v20h-1zM882 153h1v16h-1zM883 154h1v9h-1zM884 154h1v11h-1zM885 153h1v17h-1zM886 153h1v12h-1zM887 154h1v9h-1zM888 154h1v9h-1zM889 154h1v6h-1zM890 154h1v13h-1zM891 154h1v27h-1zM892 155h1v28h-1zM893 155h1v23h-1zM894 155h1v36h-1zM895 156h1v35h-1zM896 155h1v18h-1zM897 155h1v23h-1zM898 155h1v23h-1zM899 156h1v20h-1zM900 156h1v29h-1zM901 156h1v29h-1zM902 156h1v9h-1zM903 156h1v12h-1zM904 156h1v17h-1zM905 156h1v20h-1zM906 156h1v9h-1zM907 156h1v10h-1zM908 156h1v9h-1zM909 157h1v12h-1zM910 158h1v10h-1zM911 157h1v13h-1zM912 157h1v13h-1zM913 157h1v13h-1zM914 157h1v14h-1zM915 157h1v10h-1zM916 157h1v10h-1zM917 158h1v13h-1zM918 159h1v21h-1zM919 158h1v32h-1zM920 158h1v30h-1zM921 158h1v10h-1zM922 158h1v13h-1zM923 158h1v13h-1zM924 159h1v11h-1zM925 159h1v24h-1zM926 159h1v24h-1zM927 159h1v18h-1zM928 159h1v12h-1zM929 160h1v18h-1zM930 160h1v18h-1zM931 160h1v6h-1zM932 160h1v10h-1zM933 160h1v19h-1zM934 160h1v19h-1zM935 160h1v10h-1zM936 160h1v22h-1zM937 161h1v27h-1zM938 161h1v25h-1zM939 161h1v12h-1zM940 161h1v28h-1zM941 161h1v28h-1zM942 162h1v16h-1zM943 162h1v25h-1zM944 161h1v39h-1zM945 163h1v37h-1zM946 162h1v23h-1zM947 161h1v11h-1zM948 162h1v9h-1zM949 162h1v17h-1zM950 162h1v14h-1zM951 162h1v9h-1zM952 162h1v9h-1zM953 162h1v10h-1zM954 163h1v18h-1zM955 164h1v17h-1zM956 163h1v16h-1zM957 163h1v9h-1zM958 163h1v16h-1zM959 163h1v35h-1zM960 163h1v35h-1zM961 164h1v13h-1zM962 163h1v15h-1zM963 164h1v12h-1zM964 164h1v10h-1zM965 164h1v10h-1zM966 164h1v13h-1zM967 164h1v13h-1zM968 164h1v13h-1zM969 164h1v8h-1zM970 164h1v9h-1zM971 164h1v7h-1zM972 164h1v9h-1zM973 164h1v11h-1zM974 164h1v13h-1zM975 164h1v10h-1zM976 165h1v9h-1zM977 165h1v6h-1zM978 165h1v6h-1zM979 165h1v8h-1zM980 165h1v8h-1zM981 165h1v9h-1zM982 165h1v9h-1zM983 165h1v11h-1zM984 166h1v10h-1zM985 166h1v10h-1zM986 166h1v10h-1zM987 166h1v5h-1zM988 166h1v5h-1zM989 166h1v12h-1zM990 166h1v12h-1zM991 166h1v9h-1zM992 166h1v8h-1zM993 166h1v7h-1zM994 167h1v21h-1zM995 167h1v30h-1zM996 167h1v21h-1zM997 167h1v10h-1zM998 167h1v13h-1zM999 167h1v15h-1zM1000 168h1v12h-1zM1001 169h1v15h-1zM1002 168h1v24h-1zM1003 168h1v24h-1zM1004 167h1v12h-1zM1005 168h1v16h-1zM1006 169h1v29h-1zM1007 168h1v30h-1zM1008 168h1v28h-1zM1009 168h1v22h-1zM1010 168h1v21h-1zM1011 168h1v27h-1zM1012 168h1v19h-1zM1013 168h1v11h-1zM1014 168h1v9h-1zM1015 168h1v11h-1zM1016 168h1v1h-1zM1017 168h1v9h-1zM1018 168h1v9h-1zM1019 168h1v8h-1zM1020 168h1v4h-1zM1021 168h1v7h-1zM1022 168h1v7h-1zM1023 168h1v8h-1zM1024 168h1v8h-1zM1025 169h1v8h-1zM1026 169h1v8h-1zM1027 169h1v9h-1zM1028 169h1v8h-1zM1029 169h1v9h-1zM1030 169h1v9h-1zM1031 169h1v7h-1zM1032 169h1v21h-1zM1033 169h1v21h-1zM1034 169h1v10h-1zM1035 169h1v10h-1zM1036 169h1v10h-1zM1037 170h1v14h-1zM1038 170h1v15h-1zM1039 169h1v16h-1zM1040 169h1v9h-1zM1041 170h1v10h-1zM1042 170h1v7h-1zM1043 170h1v7h-1zM1044 170h1v24h-1zM1045 170h1v24h-1zM1046 170h1v7h-1zM1047 170h1v8h-1zM1048 170h1v9h-1zM1049 170h1v11h-1zM1050 170h1v11h-1zM1051 170h1v15h-1zM1052 170h1v15h-1zM1053 171h1v15h-1zM1054 172h1v12h-1zM1055 170h1v14h-1zM1056 171h1v14h-1zM1057 171h1v5h-1zM1058 171h1v7h-1zM1059 171h1v18h-1zM1060 171h1v18h-1zM1061 171h1v7h-1zM1062 171h1v7h-1zM1063 171h1v5h-1zM1064 171h1v7h-1zM1065 171h1v7h-1zM1066 171h1v10h-1zM1067 171h1v11h-1zM1068 172h1v10h-1zM1069 172h1v11h-1zM1070 172h1v13h-1zM1071 172h1v13h-1zM1072 172h1v6h-1zM1073 172h1v10h-1zM1074 172h1v10h-1zM1075 172h1v10h-1zM1076 172h1v12h-1zM1077 172h1v12h-1zM1078 172h1v6h-1zM1079 172h1v11h-1zM1080 173h1v18h-1zM1081 173h1v18h-1zM1082 175h1v6h-1zM1083 173h1v5h-1zM1084 173h1v16h-1zM1085 174h1v15h-1zM1086 174h1v11h-1zM1087 174h1v9h-1zM1088 175h1v8h-1zM1089 177h1v15h-1zM1090 181h1v22h-1zM1091 190h1v26h-1zM1092 210h1v22h-1zM1093 220h1v38h-1zM1094 240h1v19h-1zM1095 218h1v39h-1zM1096 202h1v27h-1zM1097 190h1v26h-1zM1098 183h1v18h-1zM1099 178h1v11h-1zM1100 177h1v9h-1zM1101 177h1v4h-1zM1102 177h1v17h-1zM1103 176h1v18h-1zM1104 176h1v14h-1zM1105 176h1v14h-1zM1106 175h1v8h-1zM1107 175h1v14h-1zM1108 175h1v14h-1zM1109 175h1v10h-1zM1110 175h1v11h-1zM1111 175h1v7h-1zM1112 176h1v7h-1zM1113 176h1v11h-1zM1114 177h1v21h-1zM1115 176h1v22h-1zM1116 177h1v16h-1zM1117 177h1v16h-1zM1118 176h1v8h-1zM1119 176h1v12h-1zM1120 176h1v13h-1zM1121 176h1v13h-1zM1122 176h1v8h-1zM1123 176h1v8h-1zM1124 176h1v12h-1zM1125 176h1v4h-1zM1126 176h1v12h-1zM1127 176h1v31h-1zM1128 177h1v30h-1zM1129 176h1v9h-1zM1130 176h1v9h-1zM1131 177h1v17h-1zM1132 177h1v17h-1zM1133 176h1v7h-1zM1134 176h1v14h-1zM1135 176h1v6h-1zM1136 177h1v13h-1zM1137 176h1v9h-1zM1138 176h1v6h-1zM1139 176h1v7h-1z"/><path fill="#000000" d="M186 87h1v114h-1zM185 90h1v31h-1zM102 168h1v41h-1zM107 165h1v27h-1zM110 168h1v31h-1zM113 168h1v51h-1zM118 167h1v59h-1zM122 165h1v30h-1zM125 163h1v56h-1zM128 162h1v44h-1zM132 162h1v40h-1zM136 152h1v42h-1zM141 134h1v69h-1zM144 127h1v66h-1zM148 122h1v35h-1zM153 116h1v53h-1zM156 113h1v58h-1zM160 143h1v20h-1zM164 100h1v49h-1zM167 124h1v16h-1zM170 143h1v30h-1zM175 100h1v19h-1zM180 146h1v31h-1zM185 96h1v65h-1zM510 136h1v10h-1zM512 137h1v7h-1zM514 143h1v20h-1zM515 157h1v14h-1zM520 150h1v10h-1zM522 161h1v88h-1zM523 171h1v94h-1zM526 161h1v22h-1zM532 144h1v17h-1zM535 149h1v41h-1zM536 168h1v24h-1zM540 146h1v29h-1zM544 171h1v22h-1zM553 149h1v8h-1zM554 156h1v47h-1zM555 176h1v54h-1zM556 170h1v60h-1zM560 158h1v11h-1zM561 145h1v14h-1zM564 145h1v28h-1zM568 149h1v19h-1zM571 139h1v31h-1zM573 140h1v17h-1zM579 166h1v14h-1zM582 165h1v13h-1zM584 163h1v54h-1zM585 190h1v27h-1zM588 152h1v12h-1zM589 158h1v49h-1zM590 187h1v20h-1zM593 150h1v11h-1zM594 150h1v11h-1zM599 141h1v46h-1zM602 153h1v13h-1zM607 153h1v15h-1zM608 166h1v19h-1zM615 148h1v18h-1zM616 163h1v21h-1zM629 180h1v36h-1zM632 193h1v31h-1zM633 158h1v66h-1zM638 167h1v40h-1zM639 174h1v33h-1zM640 172h1v35h-1zM642 160h1v19h-1zM647 170h1v52h-1zM649 147h1v30h-1zM661 149h1v10h-1zM662 160h1v13h-1zM676 156h1v43h-1zM678 173h1v21h-1zM696 163h1v21h-1zM697 172h1v13h-1zM700 164h1v24h-1zM705 169h1v14h-1zM708 157h1v11h-1zM709 155h1v13h-1zM716 153h1v30h-1zM717 167h1v27h-1zM718 181h1v13h-1zM719 165h1v20h-1zM723 188h1v15h-1zM731 169h1v18h-1zM732 168h1v19h-1zM739 163h1v12h-1zM744 183h1v15h-1zM746 176h1v20h-1zM747 158h1v23h-1zM751 154h1v19h-1zM754 158h1v36h-1zM767 162h1v14h-1zM774 159h1v22h-1zM780 166h1v11h-1zM781 165h1v12h-1zM807 162h1v24h-1zM810 170h1v17h-1zM815 166h1v14h-1zM819 162h1v18h-1zM860 169h1v21h-1zM861 173h1v17h-1zM862 164h1v26h-1zM876 165h1v20h-1zM895 176h1v22h-1zM900 178h1v13h-1zM918 174h1v23h-1zM919 184h1v13h-1zM920 171h1v26h-1zM925 171h1v17h-1zM929 173h1v9h-1zM930 167h1v15h-1zM933 173h1v10h-1zM934 173h1v10h-1zM936 172h1v22h-1zM940 176h1v20h-1zM941 180h1v16h-1zM944 192h1v17h-1zM945 188h1v21h-1zM954 174h1v10h-1zM958 176h1v7h-1zM960 180h1v25h-1zM995 192h1v11h-1zM1003 184h1v14h-1zM1006 188h1v16h-1zM1017 171h1v8h-1zM1033 184h1v11h-1zM1039 182h1v7h-1zM1045 179h1v19h-1zM1059 180h1v14h-1zM1060 181h1v13h-1zM1084 183h1v10h-1zM1092 221h1v36h-1zM1095 233h1v36h-1zM1096 218h1v31h-1zM1097 205h1v21h-1zM1098 192h1v17h-1zM1114 189h1v13h-1zM1117 187h1v10h-1zM1124 184h1v7h-1zM1128 190h1v24h-1zM1131 189h1v10h-1zM1132 184h1v15h-1zM1136 186h1v9h-1z"/><path fill="#FFFF00" d="M725 139h1v7h-1zM764 143h1v8h-1zM821 146h1v3h-1zM822 146h1v3h-1zM822 148h1v17h-1zM823 146h1v3h-1zM824 146h1v3h-1zM824 148h1v6h-1zM825 146h1v3h-1zM825 148h1v7h-1zM826 146h1v3h-1zM827 146h1v3h-1zM827 148h1v6h-1zM828 146h1v3h-1zM829 146h1v3h-1zM830 146h1v3h-1zM830 148h1v14h-1zM831 146h1v3h-1zM831 148h1v5h-1zM832 146h1v3h-1zM832 148h1v16h-1zM833 146h1v3h-1zM833 148h1v8h-1zM834 147h1v3h-1zM834 149h1v5h-1zM835 147h1v3h-1zM835 149h1v16h-1zM836 147h1v3h-1zM836 149h1v12h-1zM837 147h1v3h-1zM837 149h1v6h-1zM838 147h1v3h-1zM839 147h1v3h-1zM840 147h1v3h-1zM840 149h1v4h-1zM841 147h1v3h-1zM842 147h1v3h-1zM843 147h1v3h-1zM843 149h1v3h-1zM844 147h1v3h-1zM845 147h1v3h-1zM845 149h1v9h-1zM846 147h1v3h-1zM846 149h1v5h-1zM847 147h1v3h-1zM847 149h1v10h-1zM848 147h1v3h-1zM849 147h1v3h-1zM850 147h1v3h-1zM850 149h1v9h-1zM851 147h1v3h-1zM852 148h1v3h-1zM852 150h1v7h-1zM853 148h1v3h-1zM853 150h1v3h-1zM868 162h1v51h-1zM870 173h1v42h-1zM1006 171h1v9h-1zM1027 171h1v10h-1z"/><path fill="none" stroke="#1A80F0" stroke-width="3" d="M102 200.0 L103 199.6 L104 199.2 L105 198.9 L106 198.5 L107 198.1 L108 197.8 L109 197.4 L110 197.0 L111 196.7 L112 196.3 L113 196.0 L114 195.7 L115 195.3 L116 195.0 L117 194.7 L118 194.3 L119 194.0 L120 193.7 L121 193.3 L122 193.0 L123 192.7 L124 192.3 L125 192.0 L126 191.7 L127 191.4 L128 191.1 L129 190.8 L130 190.5 L131 190.2 L132 189.9 L133 189.6 L134 189.3 L135 189.0 L136 188.7 L137 188.4 L138 188.1 L139 187.8 L140 187.5 L141 187.3 L142 187.1 L143 186.9 L144 186.7 L145 186.5 L146 186.3 L147 186.1 L148 185.9 L149 185.7 L150 185.5 L151 185.4 L152 185.4 L153 185.3 L154 185.2 L155 185.2 L156 185.1 L157 185.0 L158 185.0 L159 184.9 L160 184.8 L161 184.8 L162 184.7 L163 184.6 L164 184.6 L165 184.5 L166 184.7 L167 184.9 L168 185.1 L169 185.3 L170 185.5 L171 185.7 L172 185.8 L173 186.0 L174 186.2 L175 186.4 L176 186.6 L177 186.8 L178 187.0 L179 187.4 L180 187.9 L181 188.3 L182 188.8 L183 189.2 L184 189.7 L185 190.1 L186 190.6 L187 191.0 M498 231.0 L499 230.6 L500 230.1 L501 229.7 L502 229.3 L503 228.9 L504 228.4 L505 228.0 L506 227.5 L507 227.1 L508 226.6 L509 226.1 L510 225.6 L511 225.2 L512 224.7 L513 224.2 L514 223.8 L515 223.3 L516 222.8 L517 222.4 L518 221.9 L519 221.4 L520 220.9 L521 220.5 L522 220.0 L523 219.5 L524 219.1 L525 218.6 L526 218.1 L527 217.6 L528 217.2 L529 216.7 L530 216.2 L531 215.8 L532 215.3 L533 214.8 L534 214.3 L535 213.9 L536 213.4 L537 212.9 L538 212.4 L539 212.0 L540 211.5 L541 211.2 L542 210.9 L543 210.6 L544 210.3 L545 210.0 L546 209.7 L547 209.4 L548 209.1 L549 208.8 L550 208.5 L551 208.2 L552 207.9 L553 207.6 L554 207.3 L555 207.0 L556 206.7 L557 206.4 L558 206.1 L559 205.8 L560 205.5 L561 205.2 L562 204.9 L563 204.6 L564 204.3 L565 204.0 L566 203.7 L567 203.4 L568 203.1 L569 202.8 L570 202.5 L571 202.3 L572 202.1 L573 202.0 L574 201.8 L575 201.6 L576 201.4 L577 201.3 L578 201.1 L579 200.9 L580 200.7 L581 200.6 L582 200.4 L583 200.2 L584 200.0 L585 199.8 L586 199.7 L587 199.5 L588 199.3 L589 199.1 L590 199.0 L591 198.8 L592 198.6 L593 198.4 L594 198.3 L595 198.1 L596 197.9 L597 197.7 L598 197.6 L599 197.4 L600 197.2 L601 197.1 L602 197.0 L603 196.9 L604 196.9 L605 196.8 L606 196.7 L607 196.6 L608 196.5 L609 196.4 L610 196.4 L611 196.3 L612 196.2 L613 196.1 L614 196.0 L615 195.9 L616 195.9 L617 195.8 L618 195.7 L619 195.6 L620 195.5 L621 195.4 L622 195.4 L623 195.3 L624 195.2 L625 195.1 L626 195.0 L627 194.9 L628 194.9 L629 194.8 L630 194.7 L631 194.6 L632 194.6 L633 194.5 L634 194.4 L635 194.4 L636 194.3 L637 194.2 L638 194.2 L639 194.1 L640 194.0 L641 194.0 L642 193.9 L643 193.8 L644 193.8 L645 193.7 L646 193.6 L647 193.6 L648 193.5 L649 193.4 L650 193.4 L651 193.3 L652 193.2 L653 193.2 L654 193.1 L655 193.0 L656 193.0 L657 192.9 L658 192.8 L659 192.8 L660 192.7 L661 192.6 L662 192.6 L663 192.5 L664 192.4 L665 192.4 L666 192.3 L667 192.3 L668 192.2 L669 192.1 L670 192.1 L671 192.0 L672 191.9 L673 191.9 L674 191.8 L675 191.8 L676 191.7 L677 191.6 L678 191.6 L679 191.5 L680 191.4 L681 191.4 L682 191.3 L683 191.2 L684 191.2 L685 191.1 L686 191.1 L687 191.0 L688 190.9 L689 190.9 L690 190.8 L691 190.7 L692 190.6 L693 190.5 L694 190.5 L695 190.4 L696 190.3 L697 190.2 L698 190.1 L699 190.0 L700 190.0 L701 189.9 L702 189.8 L703 189.7 L704 189.6 L705 189.5 L706 189.4 L707 189.4 L708 189.3 L709 189.2 L710 189.1 L711 189.0 L712 188.9 L713 188.8 L714 188.8 L715 188.7 L716 188.6 L717 188.5 L718 188.4 L719 188.3 L720 188.3 L721 188.2 L722 188.1 L723 188.0 L724 187.9 L725 187.8 L726 187.6 L727 187.5 L728 187.4 L729 187.3 L730 187.2 L731 187.1 L732 186.9 L733 186.8 L734 186.7 L735 186.6 L736 186.5 L737 186.4 L738 186.2 L739 186.1 L740 186.0 L741 185.9 L742 185.8 L743 185.7 L744 185.5 L745 185.4 L746 185.3 L747 185.2 L748 185.1 L749 184.9 L750 184.8 L751 184.7 L752 184.6 L753 184.5 L754 184.4 L755 184.2 L756 184.1 L757 184.0 L758 183.9 L759 183.8 L760 183.7 L761 183.5 L762 183.4 L763 183.3 L764 183.2 L765 183.1 L766 183.0 L767 182.9 L768 182.8 L769 182.7 L770 182.7 L771 182.6 L772 182.5 L773 182.4 L774 182.3 L775 182.2 L776 182.1 L777 182.0 L778 181.9 L779 181.8 L780 181.7 L781 181.6 L782 181.5 L783 181.4 L784 181.4 L785 181.3 L786 181.2 L787 181.1 L788 181.0 L789 180.9 L790 180.8 L791 180.7 L792 180.5 L793 180.4 L794 180.3 L795 180.2 L796 180.0 L797 179.9 L798 179.8 L799 179.7 L800 179.5 L801 179.4 L802 179.3 L803 179.2 L804 179.0 L805 178.9 L806 178.8 L807 178.6 L808 178.5 L809 178.4 L810 178.3 L811 178.1 L812 178.0 L813 177.9 L814 177.8 L815 177.6 L816 177.5 L817 177.4 L818 177.3 L819 177.1 L820 177.0 L821 176.9 L822 176.9 L823 176.8 L824 176.8 L825 176.7 L826 176.7 L827 176.6 L828 176.5 L829 176.5 L830 176.4 L831 176.4 L832 176.3 L833 176.3 L834 176.2 L835 176.2 L836 176.1 L837 176.0 L838 176.0 L839 175.9 L840 175.9 L841 175.8 L842 175.8 L843 175.7 L844 175.6 L845 175.6 L846 175.5 L847 175.5 L848 175.4 L849 175.4 L850 175.3 L851 175.3 L852 175.3 L853 175.2 L854 175.2 L855 175.2 L856 175.2 L857 175.2 L858 175.1 L859 175.1 L860 175.1 L861 175.1 L862 175.1 L863 175.0 L864 175.0 L865 175.0 L866 175.0 L867 175.0 L868 174.9 L869 174.9 L870 174.9 L871 174.9 L872 174.9 L873 174.8 L874 174.8 L875 174.8 L876 174.8 L877 174.8 L878 174.7 L879 174.7 L880 174.7 L881 174.7 L882 174.7 L883 174.7 L884 174.7 L885 174.8 L886 174.8 L887 174.8 L888 174.8 L889 174.8 L890 174.8 L891 174.8 L892 174.8 L893 174.9 L894 174.9 L895 174.9 L896 174.9 L897 174.9 L898 174.9 L899 174.9 L900 174.9 L901 175.0 L902 175.0 L903 175.0 L904 175.0 L905 175.0 L906 175.0 L907 175.1 L908 175.1 L909 175.2 L910 175.2 L911 175.3 L912 175.3 L913 175.4 L914 175.4 L915 175.5 L916 175.5 L917 175.6 L918 175.6 L919 175.7 L920 175.7 L921 175.8 L922 175.8 L923 175.9 L924 175.9 L925 176.0 L926 176.0 L927 176.1 L928 176.1 L929 176.2 L930 176.2 L931 176.3 L932 176.3 L933 176.4 L934 176.4 L935 176.5 L936 176.5 L937 176.6 L938 176.6 L939 176.7 L940 176.7 L941 176.8 L942 176.8 L943 176.9 L944 176.9 L945 177.0 L946 177.0 L947 177.1 L948 177.1 L949 177.2 L950 177.2 L951 177.3 L952 177.4 L953 177.4 L954 177.5 L955 177.5 L956 177.6 L957 177.6 L958 177.7 L959 177.7 L960 177.8 L961 177.8 L962 177.9 L963 177.9 L964 178.0 L965 178.0 L966 178.1 L967 178.1 L968 178.2 L969 178.2 L970 178.3 L971 178.3 L972 178.4 L973 178.4 L974 178.5 L975 178.5 L976 178.6 L977 178.6 L978 178.7 L979 178.7 L980 178.8 L981 178.8 L982 178.8 L983 178.9 L984 178.9 L985 179.0 L986 179.0 L987 179.1 L988 179.1 L989 179.2 L990 179.2 L991 179.2 L992 179.2 L993 179.2 L994 179.2 L995 179.3 L996 179.3 L997 179.3 L998 179.3 L999 179.3 L1000 179.3 L1001 179.3 L1002 179.3 L1003 179.4 L1004 179.4 L1005 179.4 L1006 179.4 L1007 179.4 L1008 179.4 L1009 179.4 L1010 179.4 L1011 179.5 L1012 179.5 L1013 179.5 L1014 179.5 L1015 179.5 L1016 179.5 L1017 179.5 L1018 179.5 L1019 179.5 L1020 179.6 L1021 179.6 L1022 179.6 L1023 179.6 L1024 179.6 L1025 179.6 L1026 179.6 L1027 179.6 L1028 179.7 L1029 179.7 L1030 179.7 L1031 179.7 L1032 179.7 L1033 179.7 L1034 179.7 L1035 179.7 L1036 179.8 L1037 179.8 L1038 179.8 L1039 179.8 L1040 179.8 L1041 179.8 L1042 179.8 L1043 179.8 L1044 179.8 L1045 179.8 L1046 179.8 L1047 179.8 L1048 179.8 L1049 179.8 L1050 179.8 L1051 179.8 L1052 179.8 L1053 179.8 L1054 179.8 L1055 179.8 L1056 179.8 L1057 179.8 L1058 179.8 L1059 179.8 L1060 179.8 L1061 179.8 L1062 179.8 L1063 179.8 L1064 179.8 L1065 179.8 L1066 179.8 L1067 179.8 L1068 179.8 L1069 179.8 L1070 179.8 L1071 179.8 L1072 179.8 L1073 179.8 L1074 179.8 L1075 179.8 L1076 179.8 L1077 179.8 L1078 179.8 L1079 179.8 L1080 179.8 L1081 179.5 L1082 179.3 L1083 179.0 L1084 178.8 L1085 178.5 L1086 178.5 L1087 178.5 L1088 178.5 L1089 178.5 L1090 178.5 L1091 178.5 L1092 178.5 L1093 178.5 L1094 178.5 L1095 178.5 L1096 178.5 L1097 178.5 L1098 178.5 L1099 178.4 L1100 178.4 L1101 178.4 L1102 178.4 L1103 178.4 L1104 178.4 L1105 178.4 L1106 178.4 L1107 178.4 L1108 178.4 L1109 178.4 L1110 178.4 L1111 178.4 L1112 178.4 L1113 178.4 L1114 178.4 L1115 178.4 L1116 178.4 L1117 178.4 L1118 178.4 L1119 178.4 L1120 178.4 L1121 178.4 L1122 178.4 L1123 178.4 L1124 178.4 L1125 178.4 L1126 178.4 L1127 178.3 L1128 178.3 L1129 178.3 L1130 178.3 L1131 178.3 L1132 178.3 L1133 178.3 L1134 178.3 L1135 178.3 L1136 178.3 L1137 178.3 L1138 178.3 L1139 178.3 L1140 178.3"/><rect x="102" y="295" width="85" height="1" fill="#1A80F0"/><rect x="500" y="295" width="321" height="1" fill="#1A80F0"/><rect x="854" y="295" width="286" height="1" fill="#1A80F0"/><path fill="#00FF6E" d="M101 279h1v1h-1zM101 281h1v1h-1zM101 285h1v1h-1zM101 287h1v1h-1zM101 295h1v4h-1zM101 300h1v4h-1zM102 280h1v23h-1zM102 311h1v1h-1zM102 313h1v1h-1zM103 279h1v34h-1zM104 280h1v27h-1zM104 310h1v4h-1zM105 279h1v4h-1zM105 284h1v28h-1zM105 313h1v1h-1zM105 315h1v1h-1zM105 320h1v1h-1zM105 322h1v1h-1zM106 281h1v41h-1zM107 273h1v4h-1zM107 280h1v1h-1zM107 282h1v1h-1zM107 284h1v32h-1zM107 320h1v1h-1zM107 322h1v1h-1zM108 274h1v36h-1zM108 311h1v1h-1zM108 313h1v2h-1zM108 316h1v1h-1zM109 273h1v4h-1zM109 278h1v1h-1zM109 280h1v1h-1zM109 283h1v1h-1zM109 285h1v22h-1zM109 308h1v4h-1zM109 323h1v1h-1zM109 325h1v1h-1zM110 273h1v1h-1zM110 275h1v1h-1zM110 279h1v46h-1zM111 274h1v40h-1zM111 323h1v1h-1zM111 325h1v1h-1zM112 273h1v1h-1zM112 275h1v1h-1zM112 284h1v1h-1zM112 286h1v28h-1zM112 315h1v1h-1zM113 287h1v1h-1zM113 289h1v26h-1zM114 275h1v1h-1zM114 277h1v2h-1zM114 280h1v2h-1zM114 283h1v1h-1zM114 288h1v26h-1zM114 315h1v1h-1zM114 332h1v1h-1zM114 334h1v1h-1zM115 268h1v1h-1zM115 270h1v1h-1zM115 276h1v58h-1zM116 267h1v47h-1zM116 315h1v1h-1zM116 332h1v1h-1zM116 334h1v1h-1zM117 268h1v47h-1zM118 267h1v4h-1zM118 274h1v26h-1zM118 301h1v1h-1zM118 303h1v1h-1zM118 305h1v1h-1zM118 307h1v1h-1zM118 309h1v1h-1zM118 313h1v1h-1zM118 315h1v1h-1zM119 269h1v36h-1zM120 266h1v5h-1zM120 272h1v28h-1zM120 301h1v1h-1zM120 303h1v1h-1zM120 305h1v1h-1zM121 264h1v1h-1zM121 266h1v35h-1zM122 261h1v1h-1zM122 263h1v1h-1zM122 265h1v35h-1zM122 301h1v1h-1zM122 303h1v1h-1zM123 249h1v1h-1zM123 251h1v1h-1zM123 262h1v41h-1zM124 250h1v49h-1zM124 300h1v2h-1zM124 303h1v1h-1zM125 249h1v1h-1zM125 251h1v1h-1zM125 268h1v1h-1zM125 270h1v30h-1zM125 306h1v1h-1zM125 308h1v1h-1zM126 266h1v1h-1zM126 268h1v1h-1zM126 272h1v1h-1zM126 274h1v34h-1zM127 259h1v1h-1zM127 261h1v1h-1zM127 267h1v36h-1zM127 306h1v1h-1zM127 308h1v1h-1zM128 260h1v42h-1zM128 303h1v2h-1zM128 306h1v1h-1zM128 311h1v1h-1zM128 313h1v1h-1zM129 259h1v1h-1zM129 261h1v1h-1zM129 268h1v1h-1zM129 270h1v43h-1zM130 264h1v1h-1zM130 266h1v1h-1zM130 268h1v35h-1zM130 304h1v1h-1zM130 306h1v1h-1zM130 308h1v1h-1zM130 310h1v2h-1zM130 313h1v1h-1zM131 258h1v1h-1zM131 260h1v1h-1zM131 265h1v45h-1zM132 259h1v52h-1zM133 258h1v1h-1zM133 260h1v1h-1zM133 268h1v42h-1zM134 267h1v39h-1zM134 307h1v1h-1zM134 309h1v1h-1zM135 268h1v29h-1zM135 298h1v1h-1zM135 300h1v1h-1zM135 304h1v1h-1zM135 306h1v1h-1zM136 268h1v30h-1zM136 299h1v4h-1zM136 313h1v1h-1zM136 315h1v1h-1zM137 268h1v1h-1zM137 270h1v1h-1zM137 272h1v2h-1zM137 275h1v40h-1zM137 317h1v1h-1zM137 319h1v1h-1zM138 274h1v45h-1zM139 273h1v1h-1zM139 275h1v8h-1zM139 284h1v29h-1zM139 317h1v1h-1zM139 319h1v1h-1zM140 277h1v33h-1zM140 311h1v1h-1zM140 313h1v1h-1zM141 276h1v1h-1zM141 278h1v1h-1zM141 280h1v1h-1zM141 282h1v1h-1zM141 285h1v27h-1zM141 313h1v1h-1zM142 274h1v1h-1zM142 276h1v1h-1zM142 281h1v32h-1zM143 275h1v37h-1zM143 313h1v1h-1zM143 315h1v1h-1zM144 274h1v1h-1zM144 276h1v1h-1zM144 279h1v1h-1zM144 281h1v34h-1zM144 318h1v1h-1zM144 320h1v1h-1zM145 270h1v1h-1zM145 272h1v1h-1zM145 274h1v1h-1zM145 276h1v1h-1zM145 278h1v1h-1zM145 280h1v40h-1zM146 271h1v50h-1zM147 270h1v7h-1zM147 278h1v34h-1zM147 313h1v1h-1zM147 315h1v1h-1zM147 317h1v1h-1zM148 271h1v46h-1zM148 319h1v1h-1zM148 321h1v1h-1zM149 264h1v1h-1zM149 266h1v1h-1zM149 271h1v50h-1zM150 264h1v49h-1zM150 316h1v1h-1zM150 318h1v2h-1zM150 321h1v1h-1zM151 264h1v54h-1zM152 264h1v1h-1zM152 266h1v1h-1zM152 271h1v43h-1zM152 316h1v1h-1zM152 318h1v1h-1zM153 270h1v43h-1zM153 314h1v1h-1zM153 316h1v1h-1zM154 272h1v1h-1zM154 274h1v2h-1zM154 277h1v2h-1zM154 280h1v36h-1zM154 322h1v1h-1zM154 324h1v1h-1zM155 274h1v1h-1zM155 276h1v2h-1zM155 279h1v45h-1zM156 275h1v35h-1zM156 311h1v1h-1zM156 313h1v1h-1zM156 315h1v1h-1zM156 322h1v1h-1zM156 324h1v1h-1zM157 272h1v1h-1zM157 274h1v1h-1zM157 276h1v4h-1zM157 281h1v31h-1zM157 313h1v1h-1zM157 315h1v1h-1zM158 273h1v42h-1zM158 318h1v1h-1zM158 320h1v1h-1zM159 272h1v1h-1zM159 274h1v47h-1zM159 322h1v1h-1zM159 324h1v1h-1zM160 260h1v1h-1zM160 262h1v1h-1zM160 267h1v1h-1zM160 269h1v1h-1zM160 273h1v1h-1zM160 275h1v49h-1zM161 261h1v62h-1zM161 324h1v1h-1zM162 260h1v1h-1zM162 262h1v1h-1zM162 265h1v1h-1zM162 267h1v6h-1zM162 274h1v48h-1zM162 323h1v1h-1zM163 264h1v1h-1zM163 266h1v50h-1zM163 317h1v1h-1zM163 320h1v1h-1zM163 322h1v1h-1zM163 325h1v1h-1zM163 327h1v1h-1zM163 329h1v1h-1zM164 249h1v1h-1zM164 251h1v1h-1zM164 265h1v64h-1zM165 250h1v64h-1zM165 325h1v1h-1zM165 327h1v1h-1zM165 329h1v1h-1zM166 249h1v1h-1zM166 251h1v1h-1zM166 257h1v58h-1zM166 316h1v1h-1zM167 256h1v1h-1zM167 258h1v1h-1zM167 270h1v1h-1zM167 272h1v1h-1zM167 274h1v1h-1zM167 276h1v40h-1zM168 273h1v1h-1zM168 275h1v1h-1zM168 277h1v34h-1zM168 312h1v1h-1zM168 314h1v1h-1zM168 316h1v1h-1zM169 274h1v36h-1zM169 311h1v1h-1zM169 315h1v4h-1zM170 271h1v1h-1zM170 273h1v4h-1zM170 278h1v1h-1zM170 280h1v1h-1zM170 285h1v33h-1zM170 322h1v1h-1zM170 324h1v1h-1zM171 272h1v52h-1zM172 265h1v1h-1zM172 267h1v1h-1zM172 271h1v1h-1zM172 273h1v2h-1zM172 276h1v1h-1zM172 280h1v29h-1zM172 310h1v1h-1zM172 312h1v1h-1zM172 314h1v1h-1zM172 322h1v1h-1zM172 324h1v1h-1zM173 266h1v48h-1zM173 315h1v1h-1zM174 265h1v1h-1zM174 267h1v1h-1zM174 274h1v1h-1zM174 276h1v2h-1zM174 279h1v1h-1zM174 281h1v34h-1zM175 278h1v30h-1zM175 309h1v1h-1zM175 311h1v1h-1zM175 313h1v1h-1zM175 315h1v1h-1zM176 277h1v1h-1zM176 279h1v1h-1zM176 281h1v1h-1zM176 283h1v26h-1zM176 310h1v1h-1zM176 312h1v1h-1zM177 278h1v34h-1zM178 276h1v27h-1zM178 307h1v4h-1zM178 312h1v1h-1zM178 314h1v1h-1zM179 277h1v37h-1zM180 276h1v5h-1zM180 282h1v1h-1zM180 284h1v2h-1zM180 287h1v28h-1zM180 316h1v1h-1zM181 278h1v38h-1zM182 277h1v1h-1zM182 279h1v29h-1zM182 309h1v1h-1zM182 311h1v1h-1zM182 313h1v2h-1zM182 316h1v1h-1zM182 318h1v1h-1zM182 320h1v1h-1zM183 275h1v1h-1zM183 277h1v1h-1zM183 279h1v41h-1zM184 276h1v41h-1zM184 318h1v1h-1zM184 320h1v1h-1zM185 275h1v1h-1zM185 277h1v1h-1zM185 279h1v1h-1zM185 284h1v34h-1zM186 283h1v1h-1zM186 285h1v21h-1zM186 307h1v1h-1zM186 311h1v1h-1zM186 313h1v1h-1zM186 316h1v1h-1zM186 318h1v1h-1zM187 284h1v1h-1zM187 286h1v1h-1zM187 288h1v17h-1zM187 306h1v1h-1zM188 287h1v1h-1zM188 289h1v1h-1zM188 291h1v1h-1zM188 293h1v1h-1zM188 295h1v1h-1zM188 297h1v1h-1zM188 303h1v1h-1zM188 305h1v1h-1zM499 298h1v5h-1zM499 304h1v1h-1zM500 292h1v14h-1zM501 271h1v1h-1zM501 273h1v1h-1zM501 292h1v14h-1zM502 272h1v34h-1zM503 271h1v1h-1zM503 273h1v1h-1zM503 287h1v17h-1zM503 305h1v1h-1zM504 288h1v14h-1zM504 303h1v1h-1zM505 287h1v12h-1zM505 300h1v1h-1zM505 302h1v1h-1zM506 280h1v1h-1zM506 282h1v1h-1zM506 287h1v15h-1zM506 303h1v1h-1zM507 281h1v22h-1zM508 280h1v1h-1zM508 282h1v1h-1zM508 286h1v16h-1zM508 303h1v1h-1zM509 287h1v15h-1zM510 284h1v1h-1zM510 286h1v1h-1zM510 288h1v13h-1zM510 302h1v1h-1zM511 285h1v17h-1zM512 283h1v20h-1zM513 283h1v19h-1zM514 283h1v19h-1zM514 303h1v1h-1zM514 305h1v1h-1zM515 283h1v1h-1zM515 285h1v1h-1zM515 287h1v18h-1zM516 286h1v13h-1zM516 303h1v1h-1zM516 305h1v1h-1zM517 285h1v1h-1zM517 287h1v2h-1zM517 290h1v10h-1zM517 301h1v1h-1zM517 303h1v1h-1zM518 286h1v17h-1zM518 305h1v1h-1zM518 307h1v1h-1zM519 287h1v20h-1zM520 286h1v14h-1zM520 301h1v1h-1zM520 305h1v1h-1zM520 307h1v1h-1zM521 274h1v1h-1zM521 276h1v25h-1zM522 275h1v27h-1zM523 274h1v1h-1zM523 276h1v1h-1zM523 290h1v12h-1zM523 303h1v1h-1zM524 288h1v15h-1zM524 304h1v1h-1zM525 289h1v15h-1zM525 305h1v1h-1zM525 307h1v1h-1zM526 288h1v1h-1zM526 290h1v2h-1zM526 293h1v2h-1zM526 296h1v11h-1zM527 292h1v16h-1zM527 314h1v1h-1zM527 316h1v1h-1zM528 290h1v26h-1zM529 270h1v1h-1zM529 272h1v1h-1zM529 289h1v1h-1zM529 291h1v12h-1zM529 304h1v1h-1zM529 306h1v1h-1zM529 314h1v1h-1zM529 316h1v1h-1zM530 271h1v34h-1zM530 306h1v1h-1zM531 270h1v1h-1zM531 272h1v1h-1zM531 289h1v17h-1zM532 287h1v1h-1zM532 289h1v1h-1zM532 291h1v14h-1zM532 306h1v1h-1zM533 288h1v14h-1zM533 303h1v1h-1zM534 285h1v1h-1zM534 287h1v1h-1zM534 289h1v14h-1zM535 286h1v18h-1zM536 285h1v1h-1zM536 287h1v1h-1zM536 289h1v13h-1zM536 303h1v1h-1zM537 288h1v15h-1zM538 289h1v13h-1zM538 303h1v1h-1zM539 288h1v1h-1zM539 290h1v12h-1zM539 303h1v1h-1zM540 288h1v15h-1zM541 288h1v14h-1zM541 303h1v1h-1zM542 286h1v1h-1zM542 288h1v13h-1zM542 306h1v1h-1zM542 308h1v1h-1zM543 287h1v21h-1zM544 286h1v1h-1zM544 288h1v14h-1zM544 306h1v1h-1zM544 308h1v1h-1zM545 287h1v1h-1zM545 289h1v1h-1zM545 292h1v12h-1zM545 305h1v1h-1zM546 291h1v1h-1zM546 293h1v12h-1zM547 290h1v1h-1zM547 292h1v12h-1zM547 305h1v1h-1zM548 272h1v1h-1zM548 274h1v1h-1zM548 291h1v12h-1zM549 273h1v30h-1zM550 272h1v1h-1zM550 274h1v27h-1zM550 302h1v1h-1zM551 273h1v1h-1zM551 275h1v1h-1zM551 283h1v1h-1zM551 285h1v2h-1zM551 288h1v12h-1zM551 301h1v1h-1zM552 285h1v15h-1zM553 286h1v18h-1zM553 305h1v1h-1zM554 285h1v21h-1zM555 288h1v1h-1zM555 290h1v16h-1zM556 277h1v1h-1zM556 279h1v1h-1zM556 287h1v1h-1zM556 289h1v1h-1zM556 291h1v11h-1zM556 303h1v1h-1zM556 305h1v1h-1zM556 307h1v1h-1zM557 278h1v29h-1zM558 277h1v1h-1zM558 279h1v1h-1zM558 284h1v1h-1zM558 286h1v15h-1zM558 305h1v1h-1zM558 307h1v1h-1zM559 285h1v16h-1zM560 284h1v1h-1zM560 286h1v2h-1zM560 289h1v12h-1zM561 285h1v17h-1zM562 284h1v1h-1zM562 286h1v1h-1zM562 289h1v13h-1zM562 303h1v1h-1zM563 288h1v15h-1zM564 285h1v1h-1zM564 287h1v1h-1zM564 289h1v10h-1zM564 301h1v1h-1zM564 303h1v1h-1zM565 286h1v15h-1zM565 302h1v1h-1zM566 285h1v17h-1zM567 285h1v1h-1zM567 287h1v14h-1zM567 302h1v1h-1zM568 286h1v16h-1zM569 285h1v1h-1zM569 287h1v1h-1zM569 289h1v1h-1zM569 291h1v10h-1zM569 302h1v1h-1zM570 290h1v1h-1zM570 292h1v10h-1zM571 289h1v12h-1zM571 302h1v1h-1zM572 286h1v1h-1zM572 288h1v12h-1zM572 301h1v1h-1zM573 287h1v13h-1zM574 286h1v1h-1zM574 288h1v12h-1zM575 288h1v10h-1zM576 290h1v10h-1zM576 301h1v1h-1zM577 289h1v14h-1zM578 290h1v13h-1zM578 304h1v1h-1zM578 306h1v1h-1zM579 291h1v15h-1zM580 290h1v11h-1zM580 302h1v1h-1zM580 304h1v1h-1zM580 306h1v1h-1zM581 291h1v11h-1zM581 303h1v1h-1zM582 290h1v1h-1zM582 292h1v12h-1zM582 305h1v1h-1zM583 291h1v14h-1zM584 288h1v1h-1zM584 290h1v11h-1zM584 302h1v2h-1zM584 305h1v1h-1zM585 289h1v13h-1zM586 288h1v1h-1zM586 290h1v11h-1zM586 302h1v1h-1zM586 304h1v1h-1zM587 290h1v14h-1zM588 291h1v12h-1zM588 304h1v1h-1zM589 286h1v16h-1zM589 303h1v1h-1zM589 307h1v1h-1zM589 309h1v1h-1zM590 276h1v1h-1zM590 278h1v1h-1zM590 287h1v22h-1zM591 277h1v27h-1zM591 307h1v1h-1zM591 309h1v1h-1zM592 276h1v1h-1zM592 278h1v1h-1zM592 286h1v16h-1zM593 285h1v1h-1zM593 287h1v1h-1zM593 289h1v12h-1zM593 302h1v1h-1zM594 287h1v1h-1zM594 289h1v12h-1zM595 287h1v15h-1zM596 287h1v15h-1zM597 287h1v15h-1zM598 289h1v11h-1zM598 301h1v1h-1zM599 288h1v11h-1zM599 300h1v1h-1zM599 302h1v1h-1zM599 304h1v1h-1zM600 287h1v1h-1zM600 289h1v15h-1zM601 283h1v1h-1zM601 285h1v1h-1zM601 288h1v10h-1zM601 302h1v1h-1zM601 304h1v1h-1zM602 284h1v16h-1zM603 283h1v5h-1zM603 289h1v10h-1zM603 300h1v1h-1zM603 302h1v1h-1zM604 280h1v1h-1zM604 282h1v1h-1zM604 285h1v17h-1zM605 281h1v18h-1zM605 300h1v4h-1zM606 280h1v1h-1zM606 282h1v1h-1zM606 285h1v18h-1zM607 284h1v1h-1zM607 286h1v1h-1zM607 288h1v12h-1zM607 301h1v1h-1zM607 303h1v1h-1zM608 287h1v15h-1zM609 287h1v15h-1zM610 286h1v1h-1zM610 288h1v12h-1zM610 301h1v1h-1zM611 285h1v1h-1zM611 287h1v11h-1zM612 286h1v12h-1zM612 299h1v1h-1zM613 285h1v1h-1zM613 287h1v1h-1zM613 289h1v1h-1zM613 291h1v8h-1zM614 287h1v1h-1zM614 289h1v11h-1zM615 281h1v1h-1zM615 283h1v1h-1zM615 288h1v10h-1zM616 282h1v17h-1zM617 281h1v1h-1zM617 283h1v1h-1zM617 290h1v9h-1zM617 300h1v1h-1zM617 302h1v1h-1zM618 290h1v13h-1zM619 290h1v15h-1zM619 306h1v1h-1zM620 292h1v14h-1zM621 285h1v1h-1zM621 287h1v1h-1zM621 291h1v14h-1zM621 306h1v1h-1zM622 284h1v1h-1zM622 286h1v17h-1zM622 304h1v1h-1zM623 285h1v16h-1zM623 302h1v1h-1zM624 284h1v1h-1zM624 286h1v16h-1zM625 285h1v1h-1zM625 287h1v16h-1zM626 286h1v24h-1zM626 311h1v1h-1zM626 315h1v1h-1zM626 317h1v1h-1zM627 285h1v1h-1zM627 287h1v30h-1zM628 289h1v14h-1zM628 309h1v1h-1zM628 311h1v1h-1zM628 315h1v1h-1zM628 317h1v1h-1zM629 288h1v1h-1zM629 290h1v1h-1zM629 292h1v1h-1zM629 294h1v11h-1zM629 306h1v1h-1zM630 293h1v1h-1zM630 295h1v11h-1zM631 294h1v8h-1zM631 304h1v1h-1zM631 306h1v1h-1zM632 286h1v1h-1zM632 288h1v1h-1zM632 290h1v12h-1zM633 283h1v1h-1zM633 285h1v1h-1zM633 287h1v25h-1zM633 313h1v1h-1zM633 317h1v1h-1zM633 319h1v1h-1zM634 284h1v35h-1zM635 283h1v1h-1zM635 285h1v2h-1zM635 288h1v11h-1zM635 300h1v1h-1zM635 311h1v1h-1zM635 313h1v1h-1zM635 317h1v1h-1zM635 319h1v1h-1zM636 287h1v15h-1zM636 303h1v1h-1zM637 286h1v1h-1zM637 288h1v1h-1zM637 290h1v13h-1zM638 291h1v11h-1zM638 303h1v1h-1zM639 291h1v1h-1zM639 293h1v11h-1zM640 291h1v1h-1zM640 293h1v10h-1zM641 292h1v12h-1zM642 289h1v15h-1zM643 290h1v13h-1zM644 286h1v1h-1zM644 288h1v11h-1zM644 301h1v1h-1zM644 303h1v1h-1zM645 287h1v11h-1zM645 299h1v1h-1zM646 286h1v1h-1zM646 288h1v11h-1zM646 300h1v1h-1zM647 287h1v13h-1zM647 301h1v1h-1zM648 286h1v1h-1zM648 288h1v2h-1zM648 291h1v10h-1zM649 290h1v12h-1zM650 285h1v1h-1zM650 287h1v1h-1zM650 290h1v10h-1zM651 284h1v1h-1zM651 286h1v15h-1zM652 285h1v13h-1zM652 299h1v1h-1zM653 284h1v1h-1zM653 286h1v13h-1zM653 300h1v1h-1zM654 285h1v15h-1zM655 267h1v1h-1zM655 269h1v1h-1zM655 275h1v1h-1zM655 277h1v22h-1zM655 300h1v1h-1zM656 261h1v1h-1zM656 263h1v1h-1zM656 268h1v30h-1zM656 299h1v1h-1zM657 256h1v1h-1zM657 258h1v41h-1zM658 257h1v41h-1zM659 256h1v1h-1zM659 258h1v1h-1zM659 263h1v36h-1zM659 300h1v1h-1zM660 262h1v1h-1zM660 264h1v1h-1zM660 279h1v1h-1zM660 281h1v1h-1zM660 288h1v12h-1zM661 289h1v12h-1zM661 302h1v1h-1zM662 288h1v1h-1zM662 290h1v13h-1zM663 288h1v15h-1zM664 287h1v14h-1zM664 302h1v1h-1zM665 286h1v1h-1zM665 288h1v10h-1zM665 299h1v1h-1zM665 301h1v1h-1zM666 287h1v14h-1zM667 286h1v1h-1zM667 288h1v12h-1zM667 301h1v2h-1zM667 304h1v1h-1zM668 287h1v1h-1zM668 289h1v15h-1zM669 289h1v1h-1zM669 291h1v12h-1zM669 304h1v1h-1zM670 289h1v13h-1zM671 289h1v14h-1zM672 288h1v13h-1zM673 289h1v12h-1zM674 288h1v13h-1zM675 291h1v10h-1zM676 290h1v1h-1zM676 292h1v10h-1zM677 291h1v10h-1zM678 293h1v9h-1zM679 290h1v1h-1zM679 292h1v9h-1zM680 289h1v13h-1zM681 263h1v1h-1zM681 265h1v1h-1zM681 271h1v1h-1zM681 273h1v27h-1zM682 257h1v1h-1zM682 259h1v1h-1zM682 264h1v33h-1zM682 298h1v1h-1zM683 251h1v1h-1zM683 253h1v46h-1zM684 252h1v47h-1zM685 251h1v1h-1zM685 253h1v1h-1zM685 261h1v1h-1zM685 263h1v1h-1zM685 268h1v32h-1zM685 301h1v1h-1zM686 267h1v1h-1zM686 269h1v1h-1zM686 276h1v26h-1zM687 275h1v1h-1zM687 277h1v1h-1zM687 281h1v1h-1zM687 283h1v1h-1zM687 289h1v1h-1zM687 291h1v11h-1zM688 287h1v1h-1zM688 289h1v11h-1zM688 301h1v1h-1zM689 284h1v15h-1zM690 285h1v12h-1zM690 298h1v1h-1zM691 284h1v14h-1zM692 289h1v10h-1zM692 300h1v1h-1zM693 288h1v1h-1zM693 290h1v13h-1zM693 308h1v1h-1zM693 310h1v1h-1zM694 291h1v19h-1zM695 291h1v12h-1zM695 308h1v1h-1zM695 310h1v1h-1zM696 289h1v1h-1zM696 291h1v11h-1zM696 304h1v1h-1zM696 306h1v1h-1zM697 290h1v16h-1zM698 289h1v1h-1zM698 291h1v9h-1zM698 301h1v1h-1zM698 304h1v1h-1zM698 306h1v1h-1zM699 287h1v1h-1zM699 289h1v13h-1zM699 303h1v1h-1zM700 288h1v15h-1zM701 287h1v1h-1zM701 289h1v1h-1zM701 291h1v9h-1zM701 301h1v1h-1zM701 303h1v1h-1zM702 290h1v11h-1zM702 302h1v1h-1zM703 291h1v11h-1zM704 289h1v14h-1zM705 290h1v12h-1zM706 289h1v4h-1zM706 294h1v8h-1zM707 290h1v12h-1zM708 287h1v13h-1zM708 301h1v1h-1zM709 288h1v10h-1zM709 299h1v1h-1zM710 287h1v12h-1zM710 300h1v1h-1zM711 289h1v12h-1zM711 302h1v1h-1zM712 289h1v14h-1zM712 304h1v1h-1zM713 290h1v18h-1zM713 309h1v1h-1zM714 290h1v19h-1zM715 289h1v1h-1zM715 291h1v12h-1zM715 304h1v1h-1zM715 307h1v1h-1zM715 309h1v1h-1zM716 276h1v1h-1zM716 278h1v1h-1zM716 289h1v12h-1zM717 277h1v25h-1zM718 276h1v1h-1zM718 278h1v1h-1zM718 289h1v13h-1zM719 290h1v11h-1zM720 289h1v13h-1zM721 290h1v1h-1zM721 292h1v9h-1zM722 290h1v1h-1zM722 292h1v9h-1zM723 286h1v1h-1zM723 288h1v2h-1zM723 291h1v10h-1zM724 287h1v15h-1zM725 286h1v15h-1zM726 285h1v12h-1zM726 298h1v2h-1zM726 301h1v1h-1zM727 286h1v14h-1zM728 285h1v1h-1zM728 287h1v12h-1zM728 306h1v1h-1zM728 308h1v1h-1zM729 286h1v1h-1zM729 288h1v1h-1zM729 290h1v18h-1zM730 289h1v10h-1zM730 306h1v1h-1zM730 308h1v1h-1zM731 289h1v12h-1zM732 287h1v1h-1zM732 289h1v11h-1zM733 288h1v14h-1zM734 287h1v1h-1zM734 289h1v2h-1zM734 292h1v9h-1zM735 289h1v1h-1zM735 291h1v11h-1zM736 290h1v10h-1zM737 286h1v15h-1zM738 287h1v14h-1zM739 286h1v4h-1zM739 291h1v20h-1zM740 289h1v1h-1zM740 291h1v19h-1zM741 290h1v10h-1zM741 308h1v1h-1zM741 310h1v1h-1zM742 289h1v1h-1zM742 291h1v8h-1zM742 300h1v1h-1zM742 302h1v1h-1zM743 291h1v11h-1zM744 290h1v11h-1zM744 302h1v1h-1zM745 291h1v10h-1zM745 302h1v1h-1zM746 289h1v13h-1zM747 287h1v1h-1zM747 289h1v8h-1zM747 300h1v1h-1zM747 302h1v1h-1zM748 288h1v10h-1zM749 287h1v1h-1zM749 289h1v9h-1zM749 299h1v1h-1zM750 290h1v1h-1zM750 292h1v8h-1zM750 301h1v1h-1zM751 287h1v14h-1zM752 288h1v8h-1zM752 297h1v1h-1zM752 299h1v1h-1zM752 301h1v1h-1zM753 287h1v12h-1zM754 288h1v11h-1zM755 289h1v12h-1zM755 302h1v1h-1zM756 289h1v13h-1zM757 289h1v14h-1zM758 289h1v13h-1zM759 290h1v12h-1zM760 289h1v12h-1zM761 290h1v1h-1zM761 292h1v10h-1zM762 292h1v9h-1zM763 291h1v11h-1zM764 292h1v9h-1zM764 302h1v1h-1zM765 291h1v11h-1zM766 289h1v1h-1zM766 291h1v10h-1zM766 302h1v1h-1zM767 290h1v13h-1zM768 289h1v1h-1zM768 291h1v12h-1zM769 289h1v1h-1zM769 291h1v13h-1zM770 288h1v1h-1zM770 290h1v13h-1zM771 289h1v13h-1zM771 303h1v1h-1zM772 288h1v1h-1zM772 290h1v10h-1zM772 301h1v1h-1zM773 289h1v10h-1zM774 290h1v9h-1zM775 292h1v8h-1zM775 301h1v1h-1zM776 291h1v10h-1zM777 292h1v10h-1zM778 292h1v10h-1zM779 290h1v12h-1zM780 291h1v12h-1zM780 304h1v1h-1zM781 290h1v4h-1zM781 295h1v9h-1zM782 292h1v13h-1zM783 290h1v13h-1zM784 288h1v1h-1zM784 290h1v10h-1zM784 301h1v1h-1zM784 303h1v1h-1zM785 285h1v1h-1zM785 287h1v11h-1zM786 286h1v13h-1zM787 285h1v1h-1zM787 287h1v12h-1zM788 287h1v1h-1zM788 289h1v10h-1zM789 287h1v1h-1zM789 289h1v10h-1zM790 285h1v1h-1zM790 287h1v10h-1zM790 298h1v1h-1zM791 286h1v11h-1zM791 298h1v1h-1zM791 300h1v1h-1zM792 277h1v1h-1zM792 279h1v1h-1zM792 285h1v1h-1zM792 287h1v13h-1zM793 278h1v23h-1zM794 277h1v1h-1zM794 279h1v1h-1zM794 288h1v15h-1zM795 290h1v12h-1zM796 289h1v1h-1zM796 291h1v12h-1zM797 290h1v1h-1zM797 292h1v10h-1zM798 285h1v17h-1zM799 286h1v13h-1zM800 285h1v1h-1zM800 287h1v11h-1zM800 299h1v1h-1zM801 288h1v1h-1zM801 290h1v1h-1zM801 292h1v7h-1zM801 300h1v1h-1zM802 291h1v9h-1zM803 289h1v1h-1zM803 291h1v10h-1zM804 288h1v11h-1zM805 289h1v11h-1zM806 288h1v1h-1zM806 290h1v1h-1zM806 292h1v7h-1zM807 289h1v1h-1zM807 291h1v8h-1zM807 300h1v1h-1zM808 288h1v1h-1zM808 290h1v10h-1zM809 289h1v10h-1zM809 300h1v1h-1zM810 288h1v1h-1zM810 290h1v12h-1zM811 289h1v1h-1zM811 291h1v10h-1zM812 284h1v1h-1zM812 286h1v1h-1zM812 290h1v13h-1zM813 285h1v17h-1zM814 284h1v1h-1zM814 286h1v1h-1zM814 290h1v9h-1zM814 300h1v1h-1zM814 302h1v1h-1zM815 291h1v9h-1zM816 290h1v12h-1zM817 289h1v1h-1zM817 291h1v10h-1zM818 290h1v12h-1zM819 289h1v1h-1zM819 291h1v9h-1zM820 290h1v1h-1zM820 292h1v9h-1zM821 292h1v5h-1zM821 298h1v1h-1zM853 292h1v6h-1zM853 299h1v1h-1zM854 290h1v1h-1zM854 292h1v7h-1zM855 291h1v9h-1zM856 290h1v1h-1zM856 292h1v9h-1zM857 292h1v9h-1zM858 290h1v1h-1zM858 292h1v9h-1zM859 289h1v1h-1zM859 291h1v10h-1zM860 290h1v11h-1zM861 289h1v1h-1zM861 291h1v8h-1zM861 300h1v1h-1zM862 290h1v10h-1zM863 289h1v1h-1zM863 291h1v1h-1zM863 293h1v8h-1zM864 290h1v1h-1zM864 292h1v8h-1zM865 289h1v1h-1zM865 291h1v10h-1zM866 290h1v8h-1zM866 299h1v1h-1zM867 289h1v1h-1zM867 291h1v9h-1zM868 291h1v9h-1zM869 291h1v9h-1zM870 291h1v9h-1zM871 291h1v8h-1zM872 290h1v10h-1zM872 301h1v1h-1zM873 290h1v11h-1zM874 290h1v10h-1zM874 301h1v1h-1zM875 290h1v10h-1zM876 288h1v1h-1zM876 290h1v9h-1zM877 289h1v11h-1zM878 288h1v1h-1zM878 290h1v8h-1zM879 289h1v1h-1zM879 291h1v7h-1zM880 291h1v8h-1zM881 289h1v1h-1zM881 291h1v8h-1zM881 300h1v1h-1zM882 290h1v10h-1zM883 289h1v10h-1zM883 300h1v1h-1zM884 290h1v10h-1zM885 289h1v10h-1zM885 300h1v1h-1zM886 288h1v1h-1zM886 290h1v10h-1zM887 288h1v11h-1zM887 300h1v1h-1zM888 288h1v11h-1zM888 300h1v1h-1zM889 288h1v12h-1zM890 291h1v10h-1zM891 291h1v9h-1zM891 302h1v1h-1zM891 304h1v1h-1zM892 291h1v13h-1zM893 290h1v1h-1zM893 292h1v8h-1zM893 302h1v1h-1zM893 304h1v1h-1zM894 290h1v9h-1zM894 300h1v1h-1zM895 290h1v10h-1zM896 289h1v12h-1zM897 290h1v10h-1zM898 289h1v1h-1zM898 291h1v10h-1zM899 291h1v8h-1zM900 291h1v9h-1zM901 291h1v7h-1zM901 299h1v1h-1zM901 301h1v1h-1zM902 291h1v10h-1zM903 291h1v9h-1zM903 301h1v1h-1zM904 291h1v9h-1zM905 291h1v9h-1zM906 291h1v9h-1zM907 292h1v8h-1zM907 301h1v1h-1zM908 291h1v10h-1zM909 292h1v8h-1zM909 301h1v1h-1zM910 291h1v8h-1zM911 291h1v9h-1zM912 291h1v9h-1zM913 290h1v9h-1zM914 291h1v9h-1zM915 290h1v8h-1zM916 290h1v7h-1zM916 298h1v1h-1zM916 300h1v1h-1zM917 291h1v9h-1zM918 289h1v10h-1zM918 300h1v1h-1zM919 289h1v9h-1zM919 299h1v1h-1zM920 289h1v11h-1zM921 289h1v1h-1zM921 291h1v9h-1zM922 290h1v10h-1zM923 291h1v9h-1zM923 301h1v1h-1zM924 290h1v11h-1zM925 288h1v1h-1zM925 290h1v12h-1zM926 289h1v11h-1zM927 288h1v10h-1zM928 290h1v10h-1zM929 289h1v11h-1zM930 290h1v10h-1zM931 290h1v10h-1zM932 290h1v11h-1zM933 290h1v1h-1zM933 292h1v8h-1zM934 289h1v1h-1zM934 291h1v10h-1zM935 290h1v10h-1zM936 289h1v11h-1zM937 290h1v9h-1zM938 289h1v8h-1zM939 290h1v9h-1zM940 291h1v7h-1zM941 290h1v9h-1zM942 290h1v11h-1zM943 291h1v9h-1zM944 290h1v11h-1zM945 289h1v1h-1zM945 291h1v8h-1zM946 289h1v9h-1zM946 299h1v1h-1zM946 301h1v1h-1zM947 289h1v12h-1zM948 289h1v1h-1zM948 291h1v9h-1zM948 301h1v1h-1zM949 290h1v10h-1zM950 291h1v8h-1zM951 288h1v1h-1zM951 290h1v1h-1zM951 292h1v9h-1zM952 289h1v12h-1zM953 288h1v1h-1zM953 290h1v11h-1zM954 291h1v8h-1zM954 300h1v1h-1zM955 290h1v8h-1zM955 299h1v1h-1zM956 291h1v8h-1zM957 288h1v1h-1zM957 290h1v8h-1zM957 299h1v1h-1zM958 289h1v10h-1zM958 300h1v1h-1zM959 288h1v1h-1zM959 290h1v10h-1zM960 291h1v10h-1zM961 290h1v11h-1zM962 291h1v10h-1zM963 290h1v11h-1zM964 292h1v9h-1zM965 291h1v1h-1zM965 293h1v7h-1zM965 301h1v1h-1zM966 289h1v1h-1zM966 291h1v10h-1zM967 290h1v10h-1zM967 301h1v1h-1zM968 289h1v1h-1zM968 291h1v8h-1zM969 292h1v9h-1zM970 292h1v9h-1zM970 302h1v1h-1zM971 291h1v11h-1zM972 289h1v1h-1zM972 291h1v12h-1zM973 288h1v1h-1zM973 290h1v11h-1zM974 289h1v11h-1zM974 301h1v1h-1zM975 288h1v11h-1zM976 289h1v1h-1zM976 291h1v9h-1zM976 301h1v1h-1zM977 290h1v1h-1zM977 292h1v9h-1zM978 290h1v8h-1zM978 299h1v1h-1zM978 301h1v1h-1zM979 291h1v7h-1zM980 290h1v8h-1zM981 289h1v1h-1zM981 291h1v7h-1zM982 290h1v8h-1zM982 299h1v1h-1zM983 289h1v1h-1zM983 291h1v9h-1zM984 291h1v10h-1zM985 290h1v10h-1zM986 291h1v10h-1zM987 290h1v10h-1zM988 291h1v8h-1zM988 300h1v1h-1zM989 290h1v10h-1zM990 289h1v10h-1zM990 300h1v1h-1zM991 290h1v9h-1zM992 289h1v10h-1zM993 290h1v9h-1zM994 290h1v9h-1zM995 292h1v8h-1zM996 291h1v9h-1zM997 291h1v9h-1zM998 291h1v9h-1zM999 291h1v8h-1zM1000 290h1v1h-1zM1000 292h1v6h-1zM1000 299h1v1h-1zM1001 291h1v7h-1zM1001 299h1v1h-1zM1001 301h1v1h-1zM1002 290h1v11h-1zM1003 291h1v12h-1zM1004 290h1v12h-1zM1005 291h1v8h-1zM1005 300h1v1h-1zM1005 302h1v1h-1zM1006 290h1v1h-1zM1006 292h1v8h-1zM1007 289h1v11h-1zM1007 301h1v1h-1zM1008 290h1v11h-1zM1009 289h1v11h-1zM1009 301h1v1h-1zM1010 290h1v1h-1zM1010 292h1v9h-1zM1011 288h1v1h-1zM1011 290h1v10h-1zM1012 289h1v11h-1zM1013 288h1v11h-1zM1013 300h1v1h-1zM1014 290h1v11h-1zM1015 289h1v1h-1zM1015 291h1v10h-1zM1016 291h1v8h-1zM1016 300h1v1h-1zM1017 289h1v1h-1zM1017 291h1v8h-1zM1018 290h1v7h-1zM1019 289h1v1h-1zM1019 291h1v7h-1zM1020 290h1v1h-1zM1020 292h1v5h-1zM1021 289h1v9h-1zM1022 290h1v7h-1zM1023 289h1v8h-1zM1023 298h1v1h-1zM1024 289h1v10h-1zM1024 300h1v1h-1zM1025 289h1v11h-1zM1026 289h1v10h-1zM1026 300h1v1h-1zM1027 290h1v8h-1zM1028 290h1v9h-1zM1028 300h1v1h-1zM1029 290h1v10h-1zM1030 290h1v1h-1zM1030 292h1v9h-1zM1031 290h1v9h-1zM1032 289h1v11h-1zM1033 290h1v9h-1zM1034 283h1v1h-1zM1034 285h1v1h-1zM1034 289h1v1h-1zM1034 291h1v10h-1zM1035 284h1v16h-1zM1036 283h1v1h-1zM1036 285h1v1h-1zM1036 289h1v1h-1zM1036 291h1v8h-1zM1036 300h1v1h-1zM1037 289h1v11h-1zM1038 290h1v12h-1zM1039 289h1v12h-1zM1040 290h1v1h-1zM1040 292h1v10h-1zM1041 291h1v9h-1zM1042 290h1v9h-1zM1042 300h1v1h-1zM1043 289h1v11h-1zM1044 290h1v11h-1zM1045 289h1v10h-1zM1046 291h1v9h-1zM1046 304h1v1h-1zM1046 306h1v1h-1zM1047 291h1v15h-1zM1048 289h1v1h-1zM1048 291h1v9h-1zM1048 304h1v1h-1zM1048 306h1v1h-1zM1049 290h1v9h-1zM1050 289h1v11h-1zM1051 290h1v8h-1zM1052 290h1v9h-1zM1053 285h1v1h-1zM1053 287h1v1h-1zM1053 290h1v8h-1zM1054 286h1v14h-1zM1054 301h1v1h-1zM1055 285h1v1h-1zM1055 287h1v1h-1zM1055 290h1v11h-1zM1056 289h1v1h-1zM1056 291h1v11h-1zM1057 291h1v7h-1zM1057 299h1v1h-1zM1058 291h1v8h-1zM1059 290h1v1h-1zM1059 292h1v8h-1zM1060 290h1v8h-1zM1061 289h1v10h-1zM1062 287h1v1h-1zM1062 289h1v9h-1zM1062 299h1v1h-1zM1063 288h1v11h-1zM1064 287h1v1h-1zM1064 289h1v1h-1zM1064 292h1v8h-1zM1064 301h1v1h-1zM1065 290h1v11h-1zM1066 291h1v9h-1zM1066 301h1v1h-1zM1067 290h1v10h-1zM1067 301h1v1h-1zM1067 303h1v1h-1zM1068 291h1v12h-1zM1069 290h1v9h-1zM1069 301h1v1h-1zM1069 303h1v1h-1zM1070 291h1v7h-1zM1071 290h1v8h-1zM1072 290h1v8h-1zM1072 299h1v1h-1zM1073 291h1v8h-1zM1074 290h1v1h-1zM1074 292h1v6h-1zM1074 299h1v1h-1zM1075 289h1v11h-1zM1076 290h1v9h-1zM1077 289h1v9h-1zM1077 299h1v1h-1zM1078 290h1v9h-1zM1079 290h1v10h-1zM1080 290h1v9h-1zM1081 290h1v1h-1zM1081 292h1v8h-1zM1082 291h1v9h-1zM1083 291h1v9h-1zM1084 292h1v8h-1zM1085 291h1v9h-1zM1086 291h1v7h-1zM1087 291h1v8h-1zM1088 291h1v8h-1zM1089 290h1v9h-1zM1089 302h1v1h-1zM1089 304h1v1h-1zM1090 291h1v13h-1zM1091 290h1v10h-1zM1091 302h1v1h-1zM1091 304h1v1h-1zM1092 289h1v1h-1zM1092 291h1v10h-1zM1093 290h1v10h-1zM1094 289h1v1h-1zM1094 291h1v8h-1zM1095 290h1v10h-1zM1096 289h1v1h-1zM1096 291h1v1h-1zM1096 293h1v6h-1zM1097 292h1v8h-1zM1098 291h1v8h-1zM1099 292h1v7h-1zM1100 292h1v6h-1zM1101 293h1v7h-1zM1102 288h1v1h-1zM1102 290h1v1h-1zM1102 292h1v7h-1zM1103 289h1v11h-1zM1104 288h1v1h-1zM1104 290h1v9h-1zM1104 300h1v1h-1zM1105 292h1v8h-1zM1105 301h1v1h-1zM1105 303h1v1h-1zM1106 290h1v13h-1zM1107 290h1v8h-1zM1107 299h1v1h-1zM1107 301h1v1h-1zM1107 303h1v1h-1zM1108 290h1v10h-1zM1109 290h1v10h-1zM1110 291h1v9h-1zM1111 290h1v1h-1zM1111 292h1v8h-1zM1112 289h1v1h-1zM1112 291h1v7h-1zM1112 299h1v1h-1zM1113 290h1v9h-1zM1113 300h1v1h-1zM1114 289h1v1h-1zM1114 291h1v9h-1zM1115 292h1v10h-1zM1116 291h1v11h-1zM1117 292h1v10h-1zM1118 291h1v9h-1zM1118 301h1v1h-1zM1119 289h1v11h-1zM1120 290h1v10h-1zM1121 289h1v11h-1zM1122 291h1v8h-1zM1122 300h1v1h-1zM1123 290h1v11h-1zM1124 288h1v1h-1zM1124 290h1v11h-1zM1125 289h1v12h-1zM1126 288h1v1h-1zM1126 290h1v10h-1zM1127 290h1v9h-1zM1127 300h1v1h-1zM1128 287h1v1h-1zM1128 289h1v11h-1zM1129 288h1v11h-1zM1129 300h1v1h-1zM1130 285h1v1h-1zM1130 287h1v1h-1zM1130 289h1v1h-1zM1130 291h1v7h-1zM1130 299h1v1h-1zM1131 286h1v13h-1zM1131 300h1v1h-1zM1132 285h1v1h-1zM1132 287h1v13h-1zM1133 292h1v7h-1zM1133 300h1v1h-1zM1134 290h1v10h-1zM1135 291h1v10h-1zM1136 290h1v9h-1zM1137 291h1v7h-1zM1137 299h1v1h-1zM1138 292h1v7h-1zM1139 292h1v6h-1zM1140 293h1v4h-1z"/>
<g shape-rendering="crispEdges"><path fill="none" stroke="#000" stroke-width="1" stroke-linecap="square" d="M180.5 38.5 L180.5 50.5M188.5 38.5 L188.5 50.5M180.5 43.5 L188.5 43.5M193.5 38.5 L193.5 50.5 L197.5 50.5 L199.5 48.5 L201.5 45.5 L201.5 42.5 L199.5 39.5 L197.5 38.5 L193.5 38.5M207.5 40.5 L210.5 38.5 L210.5 50.5M223.5 50.5 L223.5 38.5 L217.5 46.5 L226.5 46.5M236.5 39.5 L235.5 38.5 L231.5 38.5 L229.5 39.5 L229.5 43.5 L229.5 47.5 L230.5 49.5 L232.5 50.5 L235.5 50.5 L237.5 48.5 L238.5 46.5 L237.5 43.5 L235.5 42.5 L232.5 42.5 L229.5 44.5M241.5 38.5 L247.5 38.5 L248.5 39.5 L248.5 41.5 L246.5 42.5 L242.5 42.5 L240.5 41.5 L240.5 39.5 L241.5 38.5M242.5 42.5 L240.5 44.5 L240.5 49.5 L241.5 50.5 L247.5 50.5 L249.5 48.5 L249.5 44.5 L246.5 42.5M252.5 38.5 L260.5 38.5 L256.5 42.5 L258.5 43.5 L260.5 44.5 L261.5 47.5 L259.5 49.5 L257.5 50.5 L254.5 50.5 L252.5 48.5M271.5 39.5 L270.5 38.5 L266.5 38.5 L264.5 39.5 L264.5 43.5 L264.5 47.5 L265.5 49.5 L267.5 50.5 L270.5 50.5 L272.5 48.5 L273.5 46.5 L272.5 43.5 L270.5 42.5 L267.5 42.5 L264.5 44.5M309.5 35.5 L307.5 37.5 L305.5 42.5 L305.5 47.5 L306.5 52.5 L309.5 55.5M314.5 38.5 L320.5 38.5 L321.5 40.5 L322.5 42.5 L322.5 46.5 L320.5 49.5 L319.5 50.5 L316.5 50.5 L314.5 49.5 L313.5 46.5 L313.5 42.5 L313.5 40.5 L314.5 38.5M326.5 49.5 L326.5 50.5M332.5 38.5 L338.5 38.5 L339.5 40.5 L340.5 42.5 L340.5 46.5 L338.5 49.5 L337.5 50.5 L334.5 50.5 L332.5 49.5 L331.5 46.5 L331.5 42.5 L331.5 40.5 L332.5 38.5M343.5 41.5 L343.5 39.5 L344.5 38.5 L350.5 38.5 L351.5 39.5 L351.5 42.5 L343.5 50.5 L352.5 50.5M356.5 38.5 L362.5 38.5 L363.5 39.5 L363.5 41.5 L361.5 42.5 L357.5 42.5 L355.5 41.5 L355.5 39.5 L356.5 38.5M357.5 42.5 L355.5 44.5 L355.5 49.5 L356.5 50.5 L362.5 50.5 L364.5 48.5 L364.5 44.5 L361.5 42.5M368.5 38.5 L374.5 38.5 L375.5 40.5 L376.5 42.5 L376.5 46.5 L374.5 49.5 L373.5 50.5 L370.5 50.5 L368.5 49.5 L367.5 46.5 L367.5 42.5 L367.5 40.5 L368.5 38.5M379.5 38.5 L388.5 38.5 L381.5 50.5M398.5 39.5 L397.5 38.5 L393.5 38.5 L392.5 39.5 L391.5 43.5 L391.5 47.5 L392.5 49.5 L394.5 50.5 L397.5 50.5 L399.5 48.5 L400.5 46.5 L399.5 43.5 L397.5 42.5 L394.5 42.5 L391.5 44.5M411.5 38.5 L404.5 38.5 L403.5 43.5 L404.5 42.5 L408.5 42.5 L410.5 43.5 L412.5 46.5 L410.5 49.5 L408.5 50.5 L405.5 50.5 L403.5 48.5M415.5 41.5 L415.5 39.5 L416.5 38.5 L422.5 38.5 L423.5 39.5 L423.5 42.5 L415.5 50.5 L424.5 50.5M427.5 38.5 L436.5 38.5 L429.5 50.5M440.5 49.5 L440.5 50.5 L439.5 52.5M453.5 41.5 L453.5 39.5 L454.5 38.5 L460.5 38.5 L461.5 39.5 L461.5 42.5 L453.5 50.5 L462.5 50.5M466.5 40.5 L469.5 38.5 L469.5 50.5M478.5 49.5 L478.5 50.5M489.5 50.5 L489.5 38.5 L483.5 46.5 L492.5 46.5M495.5 38.5 L504.5 38.5 L497.5 50.5M514.5 39.5 L513.5 38.5 L509.5 38.5 L508.5 39.5 L507.5 43.5 L507.5 47.5 L508.5 49.5 L510.5 50.5 L513.5 50.5 L515.5 48.5 L516.5 46.5 L515.5 43.5 L513.5 42.5 L510.5 42.5 L507.5 44.5M520.5 40.5 L523.5 38.5 L523.5 50.5M538.5 39.5 L537.5 38.5 L533.5 38.5 L532.5 39.5 L531.5 43.5 L531.5 47.5 L532.5 49.5 L534.5 50.5 L537.5 50.5 L539.5 48.5 L540.5 46.5 L539.5 43.5 L537.5 42.5 L534.5 42.5 L531.5 44.5M550.5 39.5 L549.5 38.5 L545.5 38.5 L544.5 39.5 L543.5 43.5 L543.5 47.5 L544.5 49.5 L546.5 50.5 L549.5 50.5 L551.5 48.5 L552.5 46.5 L551.5 43.5 L549.5 42.5 L546.5 42.5 L543.5 44.5M556.5 49.5 L556.5 50.5 L555.5 52.5M577.5 39.5 L575.5 38.5 L571.5 38.5 L570.5 39.5 L569.5 43.5 L569.5 47.5 L570.5 49.5 L572.5 50.5 L575.5 50.5 L577.5 48.5 L578.5 46.5 L577.5 43.5 L575.5 42.5 L572.5 42.5 L569.5 44.5M581.5 41.5 L581.5 39.5 L583.5 38.5 L588.5 38.5 L589.5 39.5 L589.5 42.5 L581.5 50.5 L590.5 50.5M601.5 38.5 L594.5 38.5 L593.5 43.5 L595.5 42.5 L598.5 42.5 L601.5 43.5 L602.5 46.5 L601.5 49.5 L598.5 50.5 L595.5 50.5 L593.5 48.5M611.5 50.5 L611.5 38.5 L605.5 46.5 L614.5 46.5M618.5 49.5 L619.5 50.5M631.5 39.5 L629.5 38.5 L625.5 38.5 L624.5 39.5 L623.5 43.5 L623.5 47.5 L624.5 49.5 L626.5 50.5 L629.5 50.5 L631.5 48.5 L632.5 46.5 L631.5 43.5 L629.5 42.5 L626.5 42.5 L623.5 44.5M635.5 38.5 L644.5 38.5 L637.5 50.5M649.5 40.5 L651.5 38.5 L651.5 50.5M667.5 38.5 L660.5 38.5 L659.5 43.5 L661.5 42.5 L664.5 42.5 L667.5 43.5 L668.5 46.5 L667.5 49.5 L664.5 50.5 L661.5 50.5 L659.5 48.5M673.5 49.5 L673.5 50.5 L671.5 52.5M685.5 38.5 L693.5 38.5 L690.5 42.5 L691.5 43.5 L693.5 44.5 L694.5 47.5 L693.5 49.5 L690.5 50.5 L687.5 50.5 L685.5 48.5M698.5 49.5 L699.5 50.5M711.5 38.5 L704.5 38.5 L703.5 43.5 L705.5 42.5 L708.5 42.5 L711.5 43.5 L712.5 46.5 L711.5 49.5 L708.5 50.5 L705.5 50.5 L703.5 48.5M721.5 50.5 L721.5 38.5 L715.5 46.5 L724.5 46.5M728.5 38.5 L734.5 38.5 L735.5 40.5 L736.5 42.5 L736.5 46.5 L735.5 49.5 L733.5 50.5 L730.5 50.5 L728.5 49.5 L727.5 46.5 L727.5 42.5 L727.5 40.5 L728.5 38.5M740.5 49.5 L741.5 50.5 L745.5 50.5 L747.5 48.5 L748.5 45.5 L748.5 40.5 L746.5 38.5 L745.5 38.5 L742.5 38.5 L740.5 40.5 L739.5 42.5 L740.5 44.5 L742.5 46.5 L745.5 46.5 L748.5 44.5M752.5 38.5 L758.5 38.5 L759.5 39.5 L759.5 41.5 L757.5 42.5 L753.5 42.5 L752.5 41.5 L752.5 39.5 L752.5 38.5M753.5 42.5 L751.5 44.5 L751.5 49.5 L752.5 50.5 L758.5 50.5 L760.5 48.5 L760.5 44.5 L757.5 42.5M764.5 49.5 L765.5 50.5 L769.5 50.5 L771.5 48.5 L772.5 45.5 L772.5 40.5 L770.5 38.5 L769.5 38.5 L766.5 38.5 L764.5 40.5 L763.5 42.5 L764.5 44.5 L766.5 46.5 L769.5 46.5 L772.5 44.5M776.5 38.5 L782.5 38.5 L783.5 40.5 L784.5 42.5 L784.5 46.5 L783.5 49.5 L781.5 50.5 L778.5 50.5 L776.5 49.5 L775.5 46.5 L775.5 42.5 L775.5 40.5 L776.5 38.5M789.5 49.5 L789.5 50.5 L787.5 52.5M801.5 45.5 L812.5 45.5M817.5 38.5 L823.5 38.5 L824.5 40.5 L825.5 42.5 L825.5 46.5 L823.5 49.5 L822.5 50.5 L819.5 50.5 L817.5 49.5 L816.5 46.5 L816.5 42.5 L816.5 40.5 L817.5 38.5M829.5 49.5 L829.5 50.5M840.5 50.5 L840.5 38.5 L834.5 46.5 L843.5 46.5M852.5 50.5 L852.5 38.5 L846.5 46.5 L855.5 46.5M864.5 50.5 L864.5 38.5 L858.5 46.5 L867.5 46.5M870.5 38.5 L878.5 38.5 L874.5 42.5 L876.5 43.5 L878.5 44.5 L879.5 47.5 L877.5 49.5 L875.5 50.5 L872.5 50.5 L870.5 48.5M883.5 49.5 L884.5 50.5 L888.5 50.5 L890.5 48.5 L891.5 45.5 L891.5 40.5 L889.5 38.5 L888.5 38.5 L885.5 38.5 L883.5 40.5 L882.5 42.5 L883.5 44.5 L885.5 46.5 L888.5 46.5 L891.5 44.5M901.5 39.5 L900.5 38.5 L896.5 38.5 L895.5 39.5 L894.5 43.5 L894.5 47.5 L895.5 49.5 L897.5 50.5 L900.5 50.5 L902.5 48.5 L903.5 46.5 L902.5 43.5 L900.5 42.5 L897.5 42.5 L894.5 44.5M907.5 49.5 L908.5 50.5 L912.5 50.5 L914.5 48.5 L915.5 45.5 L915.5 40.5 L913.5 38.5 L912.5 38.5 L909.5 38.5 L907.5 40.5 L906.5 42.5 L907.5 44.5 L909.5 46.5 L912.5 46.5 L915.5 44.5M919.5 38.5 L925.5 38.5 L926.5 39.5 L926.5 41.5 L924.5 42.5 L920.5 42.5 L919.5 41.5 L919.5 39.5 L919.5 38.5M920.5 42.5 L918.5 44.5 L918.5 49.5 L919.5 50.5 L925.5 50.5 L927.5 48.5 L927.5 44.5 L924.5 42.5M932.5 49.5 L932.5 50.5 L930.5 52.5M945.5 38.5 L951.5 38.5 L952.5 40.5 L953.5 42.5 L953.5 46.5 L952.5 49.5 L950.5 50.5 L947.5 50.5 L945.5 49.5 L944.5 46.5 L944.5 42.5 L944.5 40.5 L945.5 38.5M957.5 49.5 L958.5 50.5M962.5 41.5 L962.5 39.5 L964.5 38.5 L969.5 38.5 L970.5 39.5 L970.5 42.5 L962.5 50.5 L971.5 50.5M974.5 41.5 L974.5 39.5 L976.5 38.5 L981.5 38.5 L982.5 39.5 L982.5 42.5 L974.5 50.5 L983.5 50.5M994.5 38.5 L987.5 38.5 L986.5 43.5 L988.5 42.5 L991.5 42.5 L994.5 43.5 L995.5 46.5 L994.5 49.5 L991.5 50.5 L988.5 50.5 L986.5 48.5M998.5 38.5 L1007.5 38.5 L1000.5 50.5M1018.5 38.5 L1011.5 38.5 L1010.5 43.5 L1012.5 42.5 L1015.5 42.5 L1018.5 43.5 L1019.5 46.5 L1018.5 49.5 L1015.5 50.5 L1012.5 50.5 L1010.5 48.5M1023.5 49.5 L1024.5 50.5 L1028.5 50.5 L1030.5 48.5 L1031.5 45.5 L1031.5 40.5 L1029.5 38.5 L1028.5 38.5 L1025.5 38.5 L1023.5 40.5 L1022.5 42.5 L1023.5 44.5 L1025.5 46.5 L1028.5 46.5 L1031.5 44.5M1042.5 38.5 L1035.5 38.5 L1034.5 43.5 L1036.5 42.5 L1039.5 42.5 L1042.5 43.5 L1043.5 46.5 L1042.5 49.5 L1039.5 50.5 L1036.5 50.5 L1034.5 48.5M1046.5 38.5 L1055.5 38.5 L1048.5 50.5M1058.5 35.5 L1060.5 37.5 L1062.5 42.5 L1062.5 47.5 L1061.5 52.5 L1058.5 55.5M40.5 96.5 L47.5 96.5 L44.5 99.5 L45.5 100.5 L47.5 101.5 L47.5 103.5 L46.5 105.5 L44.5 106.5 L42.5 106.5 L40.5 104.5M50.5 98.5 L56.5 104.5M56.5 98.5 L50.5 104.5M62.5 98.5 L64.5 96.5 L64.5 106.5M71.5 96.5 L76.5 96.5 L77.5 97.5 L78.5 99.5 L78.5 103.5 L77.5 105.5 L75.5 106.5 L73.5 106.5 L71.5 105.5 L70.5 103.5 L70.5 99.5 L71.5 97.5 L71.5 96.5M79.5 97.5 L85.5 97.5M87.5 94.5 L89.5 93.5 L89.5 99.5M94.5 94.5 L95.5 93.5 L95.5 99.5M40.5 163.5 L40.5 162.5 L41.5 161.5 L46.5 161.5 L47.5 162.5 L47.5 164.5 L40.5 171.5 L47.5 171.5M50.5 163.5 L56.5 169.5M56.5 163.5 L50.5 169.5M62.5 163.5 L64.5 161.5 L64.5 171.5M71.5 161.5 L76.5 161.5 L77.5 162.5 L78.5 164.5 L78.5 168.5 L77.5 170.5 L75.5 171.5 L73.5 171.5 L71.5 170.5 L70.5 168.5 L70.5 164.5 L71.5 162.5 L71.5 161.5M79.5 162.5 L85.5 162.5M87.5 159.5 L89.5 158.5 L89.5 164.5M94.5 159.5 L95.5 158.5 L95.5 164.5M41.5 228.5 L43.5 226.5 L43.5 236.5M50.5 228.5 L56.5 234.5M56.5 228.5 L50.5 234.5M62.5 228.5 L64.5 226.5 L64.5 236.5M71.5 226.5 L76.5 226.5 L77.5 227.5 L78.5 229.5 L78.5 233.5 L77.5 235.5 L75.5 236.5 L73.5 236.5 L71.5 235.5 L70.5 233.5 L70.5 229.5 L71.5 227.5 L71.5 226.5M79.5 227.5 L85.5 227.5M87.5 224.5 L89.5 223.5 L89.5 229.5M94.5 224.5 L95.5 223.5 L95.5 229.5M90.5 291.5 L95.5 291.5 L96.5 292.5 L96.5 294.5 L96.5 298.5 L95.5 300.5 L94.5 301.5 L91.5 301.5 L90.5 300.5 L89.5 298.5 L89.5 294.5 L89.5 292.5 L90.5 291.5M228.5 361.5 L228.5 352.5 L222.5 358.5 L230.5 358.5M233.5 352.5 L238.5 352.5 L239.5 353.5 L239.5 355.5 L239.5 358.5 L238.5 360.5 L237.5 361.5 L235.5 361.5 L233.5 360.5 L232.5 358.5 L232.5 355.5 L233.5 353.5 L233.5 352.5M243.5 352.5 L248.5 352.5 L249.5 353.5 L249.5 355.5 L249.5 358.5 L248.5 360.5 L247.5 361.5 L244.5 361.5 L243.5 360.5 L242.5 358.5 L242.5 355.5 L242.5 353.5 L243.5 352.5M395.5 361.5 L395.5 352.5 L390.5 358.5 L398.5 358.5M406.5 352.5 L401.5 352.5 L400.5 356.5 L401.5 355.5 L404.5 355.5 L406.5 356.5 L407.5 358.5 L406.5 360.5 L404.5 361.5 L401.5 361.5 L400.5 360.5M410.5 352.5 L415.5 352.5 L416.5 353.5 L416.5 355.5 L416.5 358.5 L415.5 360.5 L414.5 361.5 L412.5 361.5 L410.5 360.5 L409.5 358.5 L409.5 355.5 L410.5 353.5 L410.5 352.5M564.5 352.5 L558.5 352.5 L558.5 356.5 L559.5 355.5 L562.5 355.5 L564.5 356.5 L565.5 358.5 L564.5 360.5 L562.5 361.5 L559.5 361.5 L557.5 360.5M568.5 352.5 L573.5 352.5 L574.5 353.5 L574.5 355.5 L574.5 358.5 L573.5 360.5 L572.5 361.5 L569.5 361.5 L568.5 360.5 L567.5 358.5 L567.5 355.5 L567.5 353.5 L568.5 352.5M578.5 352.5 L582.5 352.5 L583.5 353.5 L584.5 355.5 L584.5 358.5 L583.5 360.5 L581.5 361.5 L579.5 361.5 L578.5 360.5 L577.5 358.5 L577.5 355.5 L577.5 353.5 L578.5 352.5M731.5 352.5 L726.5 352.5 L725.5 356.5 L726.5 355.5 L729.5 355.5 L731.5 356.5 L732.5 358.5 L731.5 360.5 L729.5 361.5 L727.5 361.5 L725.5 360.5M741.5 352.5 L735.5 352.5 L735.5 356.5 L736.5 355.5 L739.5 355.5 L741.5 356.5 L742.5 358.5 L741.5 360.5 L739.5 361.5 L736.5 361.5 L734.5 360.5M745.5 352.5 L750.5 352.5 L751.5 353.5 L751.5 355.5 L751.5 358.5 L750.5 360.5 L749.5 361.5 L746.5 361.5 L745.5 360.5 L744.5 358.5 L744.5 355.5 L745.5 353.5 L745.5 352.5M898.5 353.5 L897.5 352.5 L894.5 352.5 L893.5 353.5 L892.5 355.5 L892.5 359.5 L893.5 361.5 L895.5 361.5 L897.5 361.5 L899.5 359.5 L899.5 358.5 L899.5 356.5 L897.5 355.5 L895.5 355.5 L892.5 356.5M903.5 352.5 L908.5 352.5 L909.5 353.5 L909.5 355.5 L909.5 358.5 L908.5 360.5 L907.5 361.5 L904.5 361.5 L903.5 360.5 L902.5 358.5 L902.5 355.5 L902.5 353.5 L903.5 352.5M912.5 352.5 L917.5 352.5 L918.5 353.5 L919.5 355.5 L919.5 358.5 L918.5 360.5 L916.5 361.5 L914.5 361.5 L912.5 360.5 L911.5 358.5 L911.5 355.5 L912.5 353.5 L912.5 352.5M1066.5 353.5 L1065.5 352.5 L1061.5 352.5 L1060.5 353.5 L1060.5 355.5 L1060.5 359.5 L1061.5 361.5 L1062.5 361.5 L1064.5 361.5 L1066.5 359.5 L1067.5 358.5 L1066.5 356.5 L1064.5 355.5 L1062.5 355.5 L1060.5 356.5M1076.5 352.5 L1070.5 352.5 L1070.5 356.5 L1071.5 355.5 L1074.5 355.5 L1075.5 356.5 L1076.5 358.5 L1075.5 360.5 L1074.5 361.5 L1071.5 361.5 L1069.5 360.5M1080.5 352.5 L1085.5 352.5 L1086.5 353.5 L1086.5 355.5 L1086.5 358.5 L1085.5 360.5 L1084.5 361.5 L1081.5 361.5 L1080.5 360.5 L1079.5 358.5 L1079.5 355.5 L1079.5 353.5 L1080.5 352.5M564.5 374.5 L566.5 381.5 L568.5 374.5 L570.5 381.5 L572.5 374.5M574.5 374.5 L579.5 374.5 L580.5 375.5 L580.5 381.5M580.5 377.5 L576.5 377.5 L574.5 378.5 L574.5 380.5 L575.5 381.5 L580.5 381.5M583.5 374.5 L586.5 381.5 L590.5 374.5M592.5 377.5 L599.5 377.5 L599.5 375.5 L597.5 374.5 L593.5 374.5 L592.5 375.5 L592.5 379.5 L593.5 381.5 L597.5 381.5 L599.5 380.5M601.5 371.5 L601.5 381.5M604.5 377.5 L611.5 377.5 L611.5 375.5 L610.5 374.5 L605.5 374.5 L604.5 375.5 L604.5 379.5 L605.5 381.5 L610.5 381.5 L611.5 380.5M613.5 374.5 L613.5 381.5M613.5 375.5 L614.5 374.5 L618.5 374.5 L620.5 375.5 L620.5 381.5M629.5 374.5 L629.5 383.5 L627.5 385.5 L623.5 385.5 L622.5 384.5M629.5 375.5 L627.5 374.5 L623.5 374.5 L622.5 375.5 L622.5 379.5 L623.5 381.5 L627.5 381.5 L629.5 379.5M632.5 371.5 L632.5 381.5 L636.5 381.5M631.5 374.5 L635.5 374.5M638.5 371.5 L638.5 381.5M638.5 375.5 L639.5 374.5 L643.5 374.5 L644.5 375.5 L644.5 381.5M648.5 380.5 L648.5 381.5 L647.5 383.5M658.5 374.5 L658.5 381.5M658.5 375.5 L660.5 374.5 L664.5 374.5 L665.5 375.5 L665.5 381.5M667.5 374.5 L667.5 381.5M667.5 375.5 L669.5 374.5 L671.5 374.5 L673.5 375.5 L673.5 381.5M673.5 375.5 L674.5 374.5 L677.5 374.5 L678.5 375.5 L678.5 381.5M16.5 231.5 L16.5 232.5 L16.5 234.5 L17.5 235.5 L26.5 235.5M19.5 236.5 L19.5 232.5M16.5 230.5 L26.5 230.5M19.5 227.5 L25.5 227.5 L26.5 226.5 L26.5 221.5 L25.5 220.5M19.5 220.5 L26.5 220.5M19.5 218.5 L26.5 211.5M19.5 211.5 L26.5 218.5M25.5 208.5 L27.5 208.5 L28.5 209.5M19.5 198.5 L25.5 198.5 L26.5 197.5 L26.5 192.5 L25.5 191.5M19.5 191.5 L26.5 191.5M19.5 189.5 L26.5 189.5M21.5 189.5 L19.5 187.5 L19.5 183.5 L20.5 182.5 L26.5 182.5M16.5 180.5 L17.5 180.5M19.5 180.5 L26.5 180.5M16.5 175.5 L26.5 175.5 L26.5 172.5M19.5 177.5 L19.5 172.5M20.5 164.5 L19.5 165.5 L19.5 169.5 L20.5 170.5 L22.5 170.5 L22.5 169.5 L23.5 165.5 L24.5 163.5 L25.5 163.5 L26.5 165.5 L26.5 169.5 L25.5 170.5"/><path fill="none" stroke="#0A80FF" stroke-width="1" stroke-linecap="square" d="M1148.5 85.5 L1150.5 83.5 L1150.5 93.5M1157.5 92.5 L1158.5 93.5M1162.5 83.5 L1168.5 83.5 L1165.5 86.5 L1167.5 87.5 L1168.5 88.5 L1169.5 90.5 L1168.5 92.5 L1166.5 93.5 L1163.5 93.5 L1161.5 91.5M1148.5 151.5 L1150.5 149.5 L1150.5 159.5M1157.5 158.5 L1158.5 159.5M1162.5 151.5 L1162.5 150.5 L1163.5 149.5 L1167.5 149.5 L1168.5 150.5 L1168.5 152.5 L1161.5 159.5 L1169.5 159.5M1148.5 217.5 L1150.5 215.5 L1150.5 225.5M1157.5 224.5 L1158.5 225.5M1163.5 217.5 L1165.5 215.5 L1165.5 225.5M1148.5 283.5 L1150.5 281.5 L1150.5 291.5M1157.5 290.5 L1158.5 291.5M1162.5 281.5 L1167.5 281.5 L1168.5 282.5 L1169.5 284.5 L1169.5 288.5 L1168.5 290.5 L1166.5 291.5 L1164.5 291.5 L1162.5 290.5 L1161.5 288.5 L1161.5 284.5 L1162.5 282.5 L1162.5 281.5M1177.5 221.5 L1184.5 221.5M1179.5 221.5 L1177.5 220.5 L1177.5 217.5 L1178.5 216.5 L1184.5 216.5M1178.5 216.5 L1177.5 214.5 L1177.5 211.5 L1178.5 210.5 L1184.5 210.5M1178.5 201.5 L1177.5 203.5 L1177.5 207.5 L1179.5 208.5 L1183.5 208.5 L1184.5 207.5 L1184.5 203.5 L1183.5 201.5M1177.5 198.5 L1177.5 193.5 L1179.5 192.5 L1183.5 192.5 L1184.5 193.5 L1184.5 198.5 L1183.5 199.5 L1179.5 199.5 L1177.5 198.5M1177.5 190.5 L1184.5 190.5M1179.5 190.5 L1177.5 188.5 L1177.5 184.5 L1178.5 183.5 L1184.5 183.5M1174.5 179.5 L1184.5 179.5 L1184.5 175.5M1177.5 181.5 L1177.5 176.5"/></g>
</svg>
</body></html>
